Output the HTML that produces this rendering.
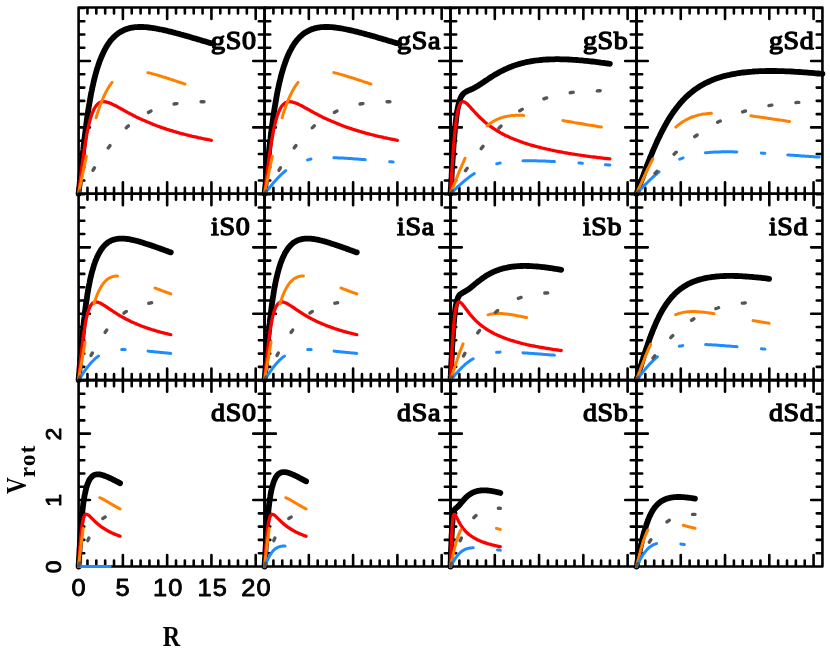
<!DOCTYPE html>
<html><head><meta charset="utf-8"><title>Rotation curves</title>
<style>
html,body{margin:0;padding:0;background:#fff}
body{width:830px;height:649px;overflow:hidden;font-family:"Liberation Serif",serif}
svg{display:block}
</style></head><body>
<svg width="830" height="649" viewBox="0 0 830 649"><rect width="830" height="649" fill="#fff"/><path d="M78.60 7.50H264.56V193.82H78.60ZM78.60 193.82v-11.5M78.60 7.50v11.5M87.46 193.82v-6.0M87.46 7.50v6.0M96.31 193.82v-6.0M96.31 7.50v6.0M105.17 193.82v-6.0M105.17 7.50v6.0M114.02 193.82v-6.0M114.02 7.50v6.0M122.88 193.82v-11.5M122.88 7.50v11.5M131.73 193.82v-6.0M131.73 7.50v6.0M140.59 193.82v-6.0M140.59 7.50v6.0M149.44 193.82v-6.0M149.44 7.50v6.0M158.30 193.82v-6.0M158.30 7.50v6.0M167.15 193.82v-11.5M167.15 7.50v11.5M176.01 193.82v-6.0M176.01 7.50v6.0M184.86 193.82v-6.0M184.86 7.50v6.0M193.72 193.82v-6.0M193.72 7.50v6.0M202.57 193.82v-6.0M202.57 7.50v6.0M211.43 193.82v-11.5M211.43 7.50v11.5M220.28 193.82v-6.0M220.28 7.50v6.0M229.14 193.82v-6.0M229.14 7.50v6.0M237.99 193.82v-6.0M237.99 7.50v6.0M246.85 193.82v-6.0M246.85 7.50v6.0M255.70 193.82v-11.5M255.70 7.50v11.5M264.56 193.82v-6.0M264.56 7.50v6.0M78.60 193.82h11.3M264.56 193.82h-11.3M78.60 180.54h5.7M264.56 180.54h-5.7M78.60 167.26h5.7M264.56 167.26h-5.7M78.60 153.98h5.7M264.56 153.98h-5.7M78.60 140.70h5.7M264.56 140.70h-5.7M78.60 127.42h11.3M264.56 127.42h-11.3M78.60 114.14h5.7M264.56 114.14h-5.7M78.60 100.86h5.7M264.56 100.86h-5.7M78.60 87.58h5.7M264.56 87.58h-5.7M78.60 74.30h5.7M264.56 74.30h-5.7M78.60 61.02h11.3M264.56 61.02h-11.3M78.60 47.74h5.7M264.56 47.74h-5.7M78.60 34.46h5.7M264.56 34.46h-5.7M78.60 21.18h5.7M264.56 21.18h-5.7M78.60 7.90h5.7M264.56 7.90h-5.7" fill="none" stroke="#000" stroke-width="2.6" stroke-linecap="round" stroke-linejoin="round"/><g fill="none" stroke-linejoin="round" stroke-linecap="round"><polyline points="78.6,193.8 78.6,193.3 78.7,192.3 78.9,191 79,189.3 79.2,187.4 79.5,185.3 79.7,182.9 80,180.3 80.2,177.5 80.5,174.5 80.9,171.4 81.2,168.1 81.6,164.7 81.9,161.2 82.3,157.6 82.7,153.9 83.2,150.1 83.6,146.2 84,142.3 84.5,138.4 85,134.4 85.5,130.5 86,126.5 86.5,122.6 87,118.8 87.6,115 88.1,111.2 88.7,107.6 89.3,104 89.9,100.5 90.5,97.1 91.1,93.7 91.8,90.5 92.4,87.4 93.1,84.4 93.7,81.5 94.4,78.7 95.1,76 95.8,73.4 96.5,70.9 97.2,68.5 98,66.2 98.7,64 99.4,61.9 100.2,59.9 101,57.9 101.8,56 102.6,54.2 103.4,52.5 104.2,50.9 105,49.3 105.8,47.8 106.7,46.4 107.5,45 108.4,43.7 109.3,42.4 110.1,41.3 111,40.1 111.9,39.1 112.8,38.1 113.8,37.1 114.7,36.2 115.6,35.4 116.6,34.6 117.5,33.8 118.5,33.1 119.5,32.5 120.4,31.9 121.4,31.3 122.4,30.8 123.4,30.3 124.4,29.8 125.5,29.4 126.5,29.1 127.5,28.7 128.6,28.4 129.6,28.1 130.7,27.9 131.8,27.7 132.9,27.5 133.9,27.4 135,27.2 136.1,27.1 137.3,27.1 138.4,27 139.5,27 140.6,27 141.8,27 142.9,27 144.1,27.1 145.3,27.2 146.4,27.2 147.6,27.4 148.8,27.5 150,27.6 151.2,27.8 152.4,28 153.7,28.1 154.9,28.3 156.1,28.5 157.4,28.8 158.6,29 159.9,29.3 161.2,29.5 162.4,29.8 163.7,30.1 165,30.4 166.3,30.7 167.6,31 168.9,31.3 170.2,31.6 171.5,31.9 172.9,32.3 174.2,32.6 175.6,33 176.9,33.3 178.3,33.7 179.6,34.1 181,34.5 182.4,34.8 183.8,35.2 185.2,35.6 186.6,36 188,36.4 189.4,36.8 190.8,37.2 192.3,37.7 193.7,38.1 195.1,38.5 196.6,38.9 198,39.4 199.5,39.8 201,40.2 202.4,40.7 203.9,41.1 205.4,41.5 206.9,42 208.4,42.4 209.9,42.9 211.4,43.3" stroke="#000000" stroke-width="5.8"/><polyline points="78.6,193.8 78.6,193.4 78.7,192.6 78.9,191.4 79,190.1 79.2,188.4 79.5,186.6 79.7,184.6 80,182.4 80.2,180.1 80.5,177.6 80.9,175 81.2,172.3 81.6,169.5 81.9,166.6 82.3,163.6 82.7,160.5 83.2,157.4 83.6,154.3 84,151.2 84.5,148.1 85,145 85.5,141.9 86,138.9 86.5,136 87,133.1 87.6,130.4 88.1,127.7 88.7,125.2 89.3,122.8 89.9,120.5 90.5,118.4 91.1,116.4 91.8,114.5 92.4,112.8 93.1,111.2 93.7,109.7 94.4,108.4 95.1,107.3 95.8,106.2 96.5,105.3 97.2,104.5 98,103.8 98.7,103.2 99.4,102.8 100.2,102.4 101,102.1 101.8,101.9 102.6,101.8 103.4,101.7 104.2,101.7 105,101.8 105.8,101.9 106.7,102.1 107.5,102.3 108.4,102.6 109.3,102.9 110.1,103.2 111,103.6 111.9,104 112.8,104.4 113.8,104.9 114.7,105.3 115.6,105.8 116.6,106.3 117.5,106.8 118.5,107.4 119.5,107.9 120.4,108.4 121.4,109 122.4,109.6 123.4,110.1 124.4,110.7 125.5,111.2 126.5,111.8 127.5,112.4 128.6,112.9 129.6,113.5 130.7,114.1 131.8,114.6 132.9,115.2 133.9,115.8 135,116.3 136.1,116.9 137.3,117.4 138.4,117.9 139.5,118.5 140.6,119 141.8,119.6 142.9,120.1 144.1,120.6 145.3,121.1 146.4,121.6 147.6,122.1 148.8,122.6 150,123.1 151.2,123.6 152.4,124.1 153.7,124.6 154.9,125 156.1,125.5 157.4,126 158.6,126.4 159.9,126.9 161.2,127.3 162.4,127.8 163.7,128.2 165,128.6 166.3,129.1 167.6,129.5 168.9,129.9 170.2,130.3 171.5,130.7 172.9,131.1 174.2,131.5 175.6,131.9 176.9,132.3 178.3,132.7 179.6,133.1 181,133.4 182.4,133.8 183.8,134.2 185.2,134.5 186.6,134.9 188,135.2 189.4,135.6 190.8,135.9 192.3,136.3 193.7,136.6 195.1,136.9 196.6,137.2 198,137.6 199.5,137.9 201,138.2 202.4,138.5 203.9,138.8 205.4,139.1 206.9,139.4 208.4,139.7 209.9,140 211.4,140.3" stroke="#ff0000" stroke-width="3.3"/><polyline points="78.6,193.8 78.6,193.6 78.7,193.1 78.9,192.4 79,191.6 79.2,190.6 79.5,189.5 79.7,188.4 80,187.1 80.2,185.7 80.5,184.2 80.9,182.6 81.2,180.9 81.6,179.2 81.9,177.3 82.3,175.4 82.7,173.5 83.2,171.4 83.6,169.3 84,167.2 84.5,165 85,162.7 85.5,160.4 86,158.1 86.5,155.7 87,153.3 87.6,150.8 88.1,148.4 88.7,145.9 89.3,143.4 89.9,140.9 90.5,138.4 91.1,135.8 91.8,133.3 92.4,130.8 93.1,128.4 93.7,125.9 94.4,123.5 95.1,121.1 95.8,118.7 96.5,116.4 97.2,114.1 98,111.8 98.7,109.6 99.4,107.4 100.2,105.3 101,103.3 101.8,101.3 102.6,99.4 103.4,97.5 104.2,95.7 105,94 105.8,92.3 106.7,90.7 107.5,89.2 108.4,87.7 109.3,86.3 110.1,85 111,83.8 111.9,82.6 112.8,81.5 113.8,80.4 114.7,79.4 115.6,78.5 116.6,77.6 117.5,76.8 118.5,76.1 119.5,75.4 120.4,74.8 121.4,74.2 122.4,73.7 123.4,73.2 124.4,72.8 125.5,72.4 126.5,72.1 127.5,71.8 128.6,71.6 129.6,71.4 130.7,71.3 131.8,71.1 132.9,71.1 133.9,71 135,71 136.1,71 137.3,71.1 138.4,71.1 139.5,71.2 140.6,71.4 141.8,71.5 142.9,71.7 144.1,71.9 145.3,72.1 146.4,72.3 147.6,72.6 148.8,72.9 150,73.1 151.2,73.4 152.4,73.8 153.7,74.1 154.9,74.4 156.1,74.8 157.4,75.1 158.6,75.5 159.9,75.9 161.2,76.3 162.4,76.7 163.7,77.1 165,77.5 166.3,77.9 167.6,78.3 168.9,78.7 170.2,79.2 171.5,79.6 172.9,80 174.2,80.5 175.6,80.9 176.9,81.4 178.3,81.8 179.6,82.3 181,82.7 182.4,83.2 183.8,83.6 185.2,84.1 186.6,84.5 188,85 189.4,85.4 190.8,85.9 192.3,86.4 193.7,86.8 195.1,87.3 196.6,87.7 198,88.2 199.5,88.6 201,89.1 202.4,89.5 203.9,90 205.4,90.4 206.9,90.9 208.4,91.3 209.9,91.7 211.4,92.2" stroke="#ff8000" stroke-width="3.0" stroke-dasharray="39 39.6" stroke-dashoffset="0.5"/><polyline points="78.6,193.8 78.6,193.7 78.7,193.6 78.9,193.3 79,193.1 79.2,192.7 79.5,192.4 79.7,192 80,191.5 80.2,191.1 80.5,190.6 80.9,190 81.2,189.5 81.6,188.9 81.9,188.2 82.3,187.6 82.7,186.9 83.2,186.2 83.6,185.5 84,184.7 84.5,184 85,183.2 85.5,182.3 86,181.5 86.5,180.6 87,179.8 87.6,178.9 88.1,178 88.7,177 89.3,176.1 89.9,175.1 90.5,174.1 91.1,173.1 91.8,172.1 92.4,171.1 93.1,170.1 93.7,169 94.4,167.9 95.1,166.9 95.8,165.8 96.5,164.7 97.2,163.6 98,162.5 98.7,161.4 99.4,160.3 100.2,159.1 101,158 101.8,156.9 102.6,155.7 103.4,154.6 104.2,153.4 105,152.3 105.8,151.2 106.7,150 107.5,148.9 108.4,147.7 109.3,146.6 110.1,145.5 111,144.3 111.9,143.2 112.8,142.1 113.8,141 114.7,139.9 115.6,138.8 116.6,137.7 117.5,136.7 118.5,135.6 119.5,134.6 120.4,133.5 121.4,132.5 122.4,131.5 123.4,130.5 124.4,129.5 125.5,128.5 126.5,127.6 127.5,126.6 128.6,125.7 129.6,124.8 130.7,123.9 131.8,123 132.9,122.2 133.9,121.4 135,120.5 136.1,119.7 137.3,119 138.4,118.2 139.5,117.4 140.6,116.7 141.8,116 142.9,115.3 144.1,114.6 145.3,114 146.4,113.4 147.6,112.8 148.8,112.2 150,111.6 151.2,111 152.4,110.5 153.7,110 154.9,109.5 156.1,109 157.4,108.5 158.6,108.1 159.9,107.6 161.2,107.2 162.4,106.8 163.7,106.5 165,106.1 166.3,105.8 167.6,105.4 168.9,105.1 170.2,104.8 171.5,104.5 172.9,104.3 174.2,104 175.6,103.8 176.9,103.6 178.3,103.4 179.6,103.2 181,103 182.4,102.8 183.8,102.7 185.2,102.5 186.6,102.4 188,102.3 189.4,102.2 190.8,102.1 192.3,102 193.7,101.9 195.1,101.9 196.6,101.8 198,101.8 199.5,101.7 201,101.7 202.4,101.7 203.9,101.7 205.4,101.7 206.9,101.7 208.4,101.7 209.9,101.8 211.4,101.8" stroke="#555555" stroke-width="3.4" stroke-dasharray="2.9 24.2" stroke-dashoffset="-0.5"/></g><path d="M264.56 7.50H450.52V193.82H264.56ZM264.56 193.82v-11.5M264.56 7.50v11.5M273.42 193.82v-6.0M273.42 7.50v6.0M282.27 193.82v-6.0M282.27 7.50v6.0M291.13 193.82v-6.0M291.13 7.50v6.0M299.98 193.82v-6.0M299.98 7.50v6.0M308.84 193.82v-11.5M308.84 7.50v11.5M317.69 193.82v-6.0M317.69 7.50v6.0M326.55 193.82v-6.0M326.55 7.50v6.0M335.40 193.82v-6.0M335.40 7.50v6.0M344.26 193.82v-6.0M344.26 7.50v6.0M353.11 193.82v-11.5M353.11 7.50v11.5M361.97 193.82v-6.0M361.97 7.50v6.0M370.82 193.82v-6.0M370.82 7.50v6.0M379.68 193.82v-6.0M379.68 7.50v6.0M388.53 193.82v-6.0M388.53 7.50v6.0M397.39 193.82v-11.5M397.39 7.50v11.5M406.24 193.82v-6.0M406.24 7.50v6.0M415.10 193.82v-6.0M415.10 7.50v6.0M423.95 193.82v-6.0M423.95 7.50v6.0M432.81 193.82v-6.0M432.81 7.50v6.0M441.66 193.82v-11.5M441.66 7.50v11.5M450.52 193.82v-6.0M450.52 7.50v6.0M264.56 193.82h11.3M450.52 193.82h-11.3M264.56 180.54h5.7M450.52 180.54h-5.7M264.56 167.26h5.7M450.52 167.26h-5.7M264.56 153.98h5.7M450.52 153.98h-5.7M264.56 140.70h5.7M450.52 140.70h-5.7M264.56 127.42h11.3M450.52 127.42h-11.3M264.56 114.14h5.7M450.52 114.14h-5.7M264.56 100.86h5.7M450.52 100.86h-5.7M264.56 87.58h5.7M450.52 87.58h-5.7M264.56 74.30h5.7M450.52 74.30h-5.7M264.56 61.02h11.3M450.52 61.02h-11.3M264.56 47.74h5.7M450.52 47.74h-5.7M264.56 34.46h5.7M450.52 34.46h-5.7M264.56 21.18h5.7M450.52 21.18h-5.7M264.56 7.90h5.7M450.52 7.90h-5.7" fill="none" stroke="#000" stroke-width="2.6" stroke-linecap="round" stroke-linejoin="round"/><g fill="none" stroke-linejoin="round" stroke-linecap="round"><polyline points="264.6,193.8 264.6,193.3 264.7,192.3 264.8,191 265,189.3 265.2,187.4 265.4,185.3 265.7,182.9 265.9,180.3 266.2,177.5 266.5,174.5 266.8,171.4 267.2,168.1 267.5,164.7 267.9,161.2 268.3,157.6 268.7,153.9 269.1,150.1 269.5,146.2 270,142.3 270.5,138.4 270.9,134.4 271.4,130.5 271.9,126.5 272.5,122.6 273,118.8 273.5,115 274.1,111.2 274.7,107.6 275.3,104 275.9,100.5 276.5,97.1 277.1,93.7 277.7,90.5 278.4,87.4 279,84.4 279.7,81.5 280.4,78.7 281,76 281.7,73.4 282.5,70.9 283.2,68.5 283.9,66.2 284.7,64 285.4,61.9 286.2,59.9 286.9,57.9 287.7,56 288.5,54.2 289.3,52.5 290.1,50.9 291,49.3 291.8,47.8 292.6,46.4 293.5,45 294.3,43.7 295.2,42.4 296.1,41.3 297,40.1 297.9,39.1 298.8,38.1 299.7,37.1 300.6,36.2 301.6,35.4 302.5,34.6 303.5,33.8 304.4,33.1 305.4,32.5 306.4,31.9 307.4,31.3 308.4,30.8 309.4,30.3 310.4,29.8 311.4,29.4 312.5,29.1 313.5,28.7 314.5,28.4 315.6,28.1 316.7,27.9 317.7,27.7 318.8,27.5 319.9,27.4 321,27.2 322.1,27.1 323.2,27.1 324.3,27 325.5,27 326.6,27 327.8,27 328.9,27 330.1,27.1 331.2,27.2 332.4,27.2 333.6,27.4 334.8,27.5 336,27.6 337.2,27.8 338.4,28 339.6,28.1 340.9,28.3 342.1,28.5 343.3,28.8 344.6,29 345.8,29.3 347.1,29.5 348.4,29.8 349.7,30.1 351,30.4 352.3,30.7 353.6,31 354.9,31.3 356.2,31.6 357.5,31.9 358.8,32.3 360.2,32.6 361.5,33 362.9,33.3 364.2,33.7 365.6,34.1 367,34.5 368.4,34.8 369.7,35.2 371.1,35.6 372.5,36 373.9,36.4 375.4,36.8 376.8,37.2 378.2,37.7 379.6,38.1 381.1,38.5 382.5,38.9 384,39.4 385.5,39.8 386.9,40.2 388.4,40.7 389.9,41.1 391.4,41.5 392.9,42 394.4,42.4 395.9,42.9 397.4,43.3" stroke="#000000" stroke-width="5.8"/><polyline points="264.6,193.8 264.6,193.4 264.7,192.6 264.8,191.4 265,190.1 265.2,188.4 265.4,186.6 265.7,184.6 265.9,182.4 266.2,180.1 266.5,177.6 266.8,175 267.2,172.3 267.5,169.5 267.9,166.6 268.3,163.6 268.7,160.5 269.1,157.4 269.5,154.3 270,151.2 270.5,148.1 270.9,145 271.4,141.9 271.9,138.9 272.5,136 273,133.1 273.5,130.4 274.1,127.7 274.7,125.2 275.3,122.8 275.9,120.5 276.5,118.4 277.1,116.4 277.7,114.5 278.4,112.8 279,111.2 279.7,109.7 280.4,108.4 281,107.3 281.7,106.2 282.5,105.3 283.2,104.5 283.9,103.8 284.7,103.2 285.4,102.8 286.2,102.4 286.9,102.1 287.7,101.9 288.5,101.8 289.3,101.7 290.1,101.7 291,101.8 291.8,101.9 292.6,102.1 293.5,102.3 294.3,102.6 295.2,102.9 296.1,103.2 297,103.6 297.9,104 298.8,104.4 299.7,104.9 300.6,105.3 301.6,105.8 302.5,106.3 303.5,106.8 304.4,107.4 305.4,107.9 306.4,108.4 307.4,109 308.4,109.6 309.4,110.1 310.4,110.7 311.4,111.2 312.5,111.8 313.5,112.4 314.5,112.9 315.6,113.5 316.7,114.1 317.7,114.6 318.8,115.2 319.9,115.8 321,116.3 322.1,116.9 323.2,117.4 324.3,117.9 325.5,118.5 326.6,119 327.8,119.6 328.9,120.1 330.1,120.6 331.2,121.1 332.4,121.6 333.6,122.1 334.8,122.6 336,123.1 337.2,123.6 338.4,124.1 339.6,124.6 340.9,125 342.1,125.5 343.3,126 344.6,126.4 345.8,126.9 347.1,127.3 348.4,127.8 349.7,128.2 351,128.6 352.3,129.1 353.6,129.5 354.9,129.9 356.2,130.3 357.5,130.7 358.8,131.1 360.2,131.5 361.5,131.9 362.9,132.3 364.2,132.7 365.6,133.1 367,133.4 368.4,133.8 369.7,134.2 371.1,134.5 372.5,134.9 373.9,135.2 375.4,135.6 376.8,135.9 378.2,136.3 379.6,136.6 381.1,136.9 382.5,137.2 384,137.6 385.5,137.9 386.9,138.2 388.4,138.5 389.9,138.8 391.4,139.1 392.9,139.4 394.4,139.7 395.9,140 397.4,140.3" stroke="#ff0000" stroke-width="3.3"/><polyline points="264.6,193.8 264.6,193.6 264.7,193.1 264.8,192.4 265,191.6 265.2,190.6 265.4,189.5 265.7,188.4 265.9,187.1 266.2,185.7 266.5,184.2 266.8,182.6 267.2,180.9 267.5,179.2 267.9,177.3 268.3,175.4 268.7,173.5 269.1,171.4 269.5,169.3 270,167.2 270.5,165 270.9,162.7 271.4,160.4 271.9,158.1 272.5,155.7 273,153.3 273.5,150.8 274.1,148.4 274.7,145.9 275.3,143.4 275.9,140.9 276.5,138.4 277.1,135.8 277.7,133.3 278.4,130.8 279,128.4 279.7,125.9 280.4,123.5 281,121.1 281.7,118.7 282.5,116.4 283.2,114.1 283.9,111.8 284.7,109.6 285.4,107.4 286.2,105.3 286.9,103.3 287.7,101.3 288.5,99.4 289.3,97.5 290.1,95.7 291,94 291.8,92.3 292.6,90.7 293.5,89.2 294.3,87.7 295.2,86.3 296.1,85 297,83.8 297.9,82.6 298.8,81.5 299.7,80.4 300.6,79.4 301.6,78.5 302.5,77.6 303.5,76.8 304.4,76.1 305.4,75.4 306.4,74.8 307.4,74.2 308.4,73.7 309.4,73.2 310.4,72.8 311.4,72.4 312.5,72.1 313.5,71.8 314.5,71.6 315.6,71.4 316.7,71.3 317.7,71.1 318.8,71.1 319.9,71 321,71 322.1,71 323.2,71.1 324.3,71.1 325.5,71.2 326.6,71.4 327.8,71.5 328.9,71.7 330.1,71.9 331.2,72.1 332.4,72.3 333.6,72.6 334.8,72.9 336,73.1 337.2,73.4 338.4,73.8 339.6,74.1 340.9,74.4 342.1,74.8 343.3,75.1 344.6,75.5 345.8,75.9 347.1,76.3 348.4,76.7 349.7,77.1 351,77.5 352.3,77.9 353.6,78.3 354.9,78.7 356.2,79.2 357.5,79.6 358.8,80 360.2,80.5 361.5,80.9 362.9,81.4 364.2,81.8 365.6,82.3 367,82.7 368.4,83.2 369.7,83.6 371.1,84.1 372.5,84.5 373.9,85 375.4,85.4 376.8,85.9 378.2,86.4 379.6,86.8 381.1,87.3 382.5,87.7 384,88.2 385.5,88.6 386.9,89.1 388.4,89.5 389.9,90 391.4,90.4 392.9,90.9 394.4,91.3 395.9,91.7 397.4,92.2" stroke="#ff8000" stroke-width="3.0" stroke-dasharray="39 39.6" stroke-dashoffset="0.5"/><polyline points="264.6,193.8 264.6,193.8 264.7,193.6 264.8,193.5 265,193.3 265.2,193 265.4,192.7 265.7,192.4 265.9,192.1 266.2,191.7 266.5,191.4 266.8,191 267.2,190.5 267.5,190.1 267.9,189.6 268.3,189.1 268.7,188.6 269.1,188.1 269.5,187.6 270,187 270.5,186.4 270.9,185.9 271.4,185.3 271.9,184.7 272.5,184 273,183.4 273.5,182.8 274.1,182.1 274.7,181.5 275.3,180.8 275.9,180.1 276.5,179.5 277.1,178.8 277.7,178.1 278.4,177.5 279,176.8 279.7,176.1 280.4,175.4 281,174.8 281.7,174.1 282.5,173.5 283.2,172.8 283.9,172.2 284.7,171.5 285.4,170.9 286.2,170.3 286.9,169.7 287.7,169.1 288.5,168.5 289.3,167.9 290.1,167.4 291,166.8 291.8,166.3 292.6,165.8 293.5,165.3 294.3,164.8 295.2,164.4 296.1,163.9 297,163.5 297.9,163.1 298.8,162.7 299.7,162.3 300.6,162 301.6,161.6 302.5,161.3 303.5,161 304.4,160.7 305.4,160.4 306.4,160.1 307.4,159.9 308.4,159.7 309.4,159.4 310.4,159.2 311.4,159 312.5,158.9 313.5,158.7 314.5,158.6 315.6,158.4 316.7,158.3 317.7,158.2 318.8,158.1 319.9,158 321,157.9 322.1,157.9 323.2,157.8 324.3,157.8 325.5,157.7 326.6,157.7 327.8,157.7 328.9,157.7 330.1,157.7 331.2,157.7 332.4,157.7 333.6,157.7 334.8,157.8 336,157.8 337.2,157.8 338.4,157.9 339.6,157.9 340.9,158 342.1,158 343.3,158.1 344.6,158.2 345.8,158.2 347.1,158.3 348.4,158.4 349.7,158.5 351,158.6 352.3,158.7 353.6,158.8 354.9,158.9 356.2,159 357.5,159.1 358.8,159.2 360.2,159.3 361.5,159.4 362.9,159.5 364.2,159.6 365.6,159.7 367,159.8 368.4,159.9 369.7,160 371.1,160.2 372.5,160.3 373.9,160.4 375.4,160.5 376.8,160.6 378.2,160.7 379.6,160.9 381.1,161 382.5,161.1 384,161.2 385.5,161.4 386.9,161.5 388.4,161.6 389.9,161.7 391.4,161.8 392.9,162 394.4,162.1 395.9,162.2 397.4,162.3" stroke="#1e8cff" stroke-width="3.0" stroke-dasharray="31.5 24.5 3.5 23" stroke-dashoffset="0"/><polyline points="264.6,193.8 264.6,193.7 264.7,193.6 264.8,193.3 265,193.1 265.2,192.7 265.4,192.4 265.7,192 265.9,191.5 266.2,191.1 266.5,190.6 266.8,190 267.2,189.5 267.5,188.9 267.9,188.2 268.3,187.6 268.7,186.9 269.1,186.2 269.5,185.5 270,184.7 270.5,184 270.9,183.2 271.4,182.3 271.9,181.5 272.5,180.6 273,179.8 273.5,178.9 274.1,178 274.7,177 275.3,176.1 275.9,175.1 276.5,174.1 277.1,173.1 277.7,172.1 278.4,171.1 279,170.1 279.7,169 280.4,167.9 281,166.9 281.7,165.8 282.5,164.7 283.2,163.6 283.9,162.5 284.7,161.4 285.4,160.3 286.2,159.1 286.9,158 287.7,156.9 288.5,155.7 289.3,154.6 290.1,153.4 291,152.3 291.8,151.2 292.6,150 293.5,148.9 294.3,147.7 295.2,146.6 296.1,145.5 297,144.3 297.9,143.2 298.8,142.1 299.7,141 300.6,139.9 301.6,138.8 302.5,137.7 303.5,136.7 304.4,135.6 305.4,134.6 306.4,133.5 307.4,132.5 308.4,131.5 309.4,130.5 310.4,129.5 311.4,128.5 312.5,127.6 313.5,126.6 314.5,125.7 315.6,124.8 316.7,123.9 317.7,123 318.8,122.2 319.9,121.4 321,120.5 322.1,119.7 323.2,119 324.3,118.2 325.5,117.4 326.6,116.7 327.8,116 328.9,115.3 330.1,114.6 331.2,114 332.4,113.4 333.6,112.8 334.8,112.2 336,111.6 337.2,111 338.4,110.5 339.6,110 340.9,109.5 342.1,109 343.3,108.5 344.6,108.1 345.8,107.6 347.1,107.2 348.4,106.8 349.7,106.5 351,106.1 352.3,105.8 353.6,105.4 354.9,105.1 356.2,104.8 357.5,104.5 358.8,104.3 360.2,104 361.5,103.8 362.9,103.6 364.2,103.4 365.6,103.2 367,103 368.4,102.8 369.7,102.7 371.1,102.5 372.5,102.4 373.9,102.3 375.4,102.2 376.8,102.1 378.2,102 379.6,101.9 381.1,101.9 382.5,101.8 384,101.8 385.5,101.7 386.9,101.7 388.4,101.7 389.9,101.7 391.4,101.7 392.9,101.7 394.4,101.7 395.9,101.8 397.4,101.8" stroke="#555555" stroke-width="3.4" stroke-dasharray="2.9 24.2" stroke-dashoffset="-0.5"/></g><path d="M450.52 7.50H636.48V193.82H450.52ZM450.52 193.82v-11.5M450.52 7.50v11.5M459.38 193.82v-6.0M459.38 7.50v6.0M468.23 193.82v-6.0M468.23 7.50v6.0M477.09 193.82v-6.0M477.09 7.50v6.0M485.94 193.82v-6.0M485.94 7.50v6.0M494.80 193.82v-11.5M494.80 7.50v11.5M503.65 193.82v-6.0M503.65 7.50v6.0M512.51 193.82v-6.0M512.51 7.50v6.0M521.36 193.82v-6.0M521.36 7.50v6.0M530.22 193.82v-6.0M530.22 7.50v6.0M539.07 193.82v-11.5M539.07 7.50v11.5M547.93 193.82v-6.0M547.93 7.50v6.0M556.78 193.82v-6.0M556.78 7.50v6.0M565.64 193.82v-6.0M565.64 7.50v6.0M574.49 193.82v-6.0M574.49 7.50v6.0M583.35 193.82v-11.5M583.35 7.50v11.5M592.20 193.82v-6.0M592.20 7.50v6.0M601.06 193.82v-6.0M601.06 7.50v6.0M609.91 193.82v-6.0M609.91 7.50v6.0M618.77 193.82v-6.0M618.77 7.50v6.0M627.62 193.82v-11.5M627.62 7.50v11.5M636.48 193.82v-6.0M636.48 7.50v6.0M450.52 193.82h11.3M636.48 193.82h-11.3M450.52 180.54h5.7M636.48 180.54h-5.7M450.52 167.26h5.7M636.48 167.26h-5.7M450.52 153.98h5.7M636.48 153.98h-5.7M450.52 140.70h5.7M636.48 140.70h-5.7M450.52 127.42h11.3M636.48 127.42h-11.3M450.52 114.14h5.7M636.48 114.14h-5.7M450.52 100.86h5.7M636.48 100.86h-5.7M450.52 87.58h5.7M636.48 87.58h-5.7M450.52 74.30h5.7M636.48 74.30h-5.7M450.52 61.02h11.3M636.48 61.02h-11.3M450.52 47.74h5.7M636.48 47.74h-5.7M450.52 34.46h5.7M636.48 34.46h-5.7M450.52 21.18h5.7M636.48 21.18h-5.7M450.52 7.90h5.7M636.48 7.90h-5.7" fill="none" stroke="#000" stroke-width="2.6" stroke-linecap="round" stroke-linejoin="round"/><g fill="none" stroke-linejoin="round" stroke-linecap="round"><polyline points="450.5,193.8 450.6,192.8 450.7,190.8 450.9,188 451.1,184.6 451.3,180.7 451.6,176.4 451.8,171.6 452.2,166.6 452.5,161.3 452.9,155.8 453.2,150.3 453.6,144.8 454.1,139.3 454.5,134.1 455,129 455.5,124.3 456,119.9 456.5,115.8 457,112.2 457.6,108.9 458.2,106 458.8,103.5 459.4,101.3 460,99.4 460.6,97.8 461.3,96.5 462,95.4 462.7,94.5 463.4,93.7 464.1,93 464.8,92.5 465.5,92 466.3,91.6 467.1,91.2 467.9,90.8 468.7,90.5 469.5,90.1 470.3,89.8 471.1,89.4 472,89 472.9,88.6 473.7,88.2 474.6,87.7 475.5,87.2 476.5,86.7 477.4,86.1 478.3,85.6 479.3,85 480.2,84.3 481.2,83.7 482.2,83 483.2,82.4 484.2,81.7 485.2,81 486.3,80.3 487.3,79.6 488.4,78.9 489.4,78.2 490.5,77.5 491.6,76.8 492.7,76.1 493.8,75.4 494.9,74.7 496.1,74.1 497.2,73.4 498.4,72.7 499.5,72.1 500.7,71.5 501.9,70.9 503.1,70.3 504.3,69.7 505.5,69.1 506.8,68.6 508,68 509.2,67.5 510.5,67 511.8,66.5 513,66 514.3,65.6 515.6,65.1 516.9,64.7 518.2,64.3 519.6,63.9 520.9,63.5 522.3,63.2 523.6,62.8 525,62.5 526.3,62.2 527.7,61.9 529.1,61.7 530.5,61.4 531.9,61.1 533.4,60.9 534.8,60.7 536.2,60.5 537.7,60.3 539.1,60.2 540.6,60 542.1,59.9 543.6,59.7 545.1,59.6 546.6,59.5 548.1,59.5 549.6,59.4 551.1,59.3 552.7,59.3 554.2,59.3 555.8,59.2 557.3,59.2 558.9,59.2 560.5,59.3 562.1,59.3 563.7,59.3 565.3,59.4 566.9,59.4 568.5,59.5 570.1,59.6 571.8,59.7 573.4,59.8 575.1,59.9 576.7,60 578.4,60.2 580.1,60.3 581.8,60.4 583.5,60.6 585.2,60.8 586.9,60.9 588.6,61.1 590.4,61.3 592.1,61.5 593.8,61.7 595.6,61.9 597.4,62.1 599.1,62.3 600.9,62.6 602.7,62.8 604.5,63 606.3,63.3 608.1,63.5 609.9,63.8" stroke="#000000" stroke-width="5.8"/><polyline points="450.5,193.8 450.6,192.8 450.7,190.8 450.9,188.1 451.1,184.8 451.3,181 451.6,176.7 451.8,172 452.2,167.1 452.5,161.9 452.9,156.6 453.2,151.2 453.6,145.8 454.1,140.5 454.5,135.4 455,130.6 455.5,126.1 456,121.9 456.5,118.1 457,114.8 457.6,111.9 458.2,109.3 458.8,107.2 459.4,105.5 460,104.2 460.6,103.1 461.3,102.4 462,102 462.7,101.7 463.4,101.7 464.1,101.9 464.8,102.2 465.5,102.7 466.3,103.2 467.1,103.9 467.9,104.6 468.7,105.5 469.5,106.3 470.3,107.2 471.1,108.1 472,109.1 472.9,110 473.7,111 474.6,112 475.5,113 476.5,113.9 477.4,114.9 478.3,115.9 479.3,116.8 480.2,117.8 481.2,118.7 482.2,119.6 483.2,120.5 484.2,121.4 485.2,122.3 486.3,123.2 487.3,124 488.4,124.8 489.4,125.6 490.5,126.4 491.6,127.2 492.7,128 493.8,128.7 494.9,129.4 496.1,130.2 497.2,130.9 498.4,131.5 499.5,132.2 500.7,132.9 501.9,133.5 503.1,134.2 504.3,134.8 505.5,135.4 506.8,136 508,136.6 509.2,137.1 510.5,137.7 511.8,138.2 513,138.8 514.3,139.3 515.6,139.8 516.9,140.3 518.2,140.8 519.6,141.3 520.9,141.8 522.3,142.2 523.6,142.7 525,143.2 526.3,143.6 527.7,144 529.1,144.5 530.5,144.9 531.9,145.3 533.4,145.7 534.8,146.1 536.2,146.5 537.7,146.9 539.1,147.2 540.6,147.6 542.1,148 543.6,148.3 545.1,148.7 546.6,149 548.1,149.4 549.6,149.7 551.1,150 552.7,150.3 554.2,150.7 555.8,151 557.3,151.3 558.9,151.6 560.5,151.9 562.1,152.2 563.7,152.5 565.3,152.8 566.9,153 568.5,153.3 570.1,153.6 571.8,153.9 573.4,154.1 575.1,154.4 576.7,154.6 578.4,154.9 580.1,155.1 581.8,155.4 583.5,155.6 585.2,155.9 586.9,156.1 588.6,156.3 590.4,156.6 592.1,156.8 593.8,157 595.6,157.2 597.4,157.5 599.1,157.7 600.9,157.9 602.7,158.1 604.5,158.3 606.3,158.5 608.1,158.7 609.9,158.9" stroke="#ff0000" stroke-width="3.3"/><polyline points="450.5,193.8 450.6,193.7 450.7,193.4 450.9,192.9 451.1,192.4 451.3,191.8 451.6,191.1 451.8,190.4 452.2,189.6 452.5,188.7 452.9,187.8 453.2,186.8 453.6,185.7 454.1,184.6 454.5,183.5 455,182.3 455.5,181 456,179.8 456.5,178.4 457,177.1 457.6,175.7 458.2,174.3 458.8,172.8 459.4,171.3 460,169.8 460.6,168.3 461.3,166.8 462,165.2 462.7,163.7 463.4,162.1 464.1,160.5 464.8,158.9 465.5,157.3 466.3,155.7 467.1,154.2 467.9,152.6 468.7,151 469.5,149.5 470.3,148 471.1,146.4 472,145 472.9,143.5 473.7,142 474.6,140.6 475.5,139.3 476.5,137.9 477.4,136.6 478.3,135.3 479.3,134.1 480.2,132.9 481.2,131.7 482.2,130.6 483.2,129.5 484.2,128.5 485.2,127.5 486.3,126.6 487.3,125.6 488.4,124.8 489.4,124 490.5,123.2 491.6,122.4 492.7,121.7 493.8,121.1 494.9,120.5 496.1,119.9 497.2,119.4 498.4,118.9 499.5,118.4 500.7,118 501.9,117.6 503.1,117.2 504.3,116.9 505.5,116.6 506.8,116.4 508,116.1 509.2,115.9 510.5,115.8 511.8,115.6 513,115.5 514.3,115.4 515.6,115.3 516.9,115.3 518.2,115.3 519.6,115.3 520.9,115.3 522.3,115.3 523.6,115.4 525,115.4 526.3,115.5 527.7,115.6 529.1,115.7 530.5,115.8 531.9,116 533.4,116.1 534.8,116.3 536.2,116.4 537.7,116.6 539.1,116.8 540.6,117 542.1,117.2 543.6,117.4 545.1,117.6 546.6,117.9 548.1,118.1 549.6,118.3 551.1,118.6 552.7,118.8 554.2,119.1 555.8,119.3 557.3,119.6 558.9,119.9 560.5,120.1 562.1,120.4 563.7,120.7 565.3,121 566.9,121.2 568.5,121.5 570.1,121.8 571.8,122.1 573.4,122.4 575.1,122.7 576.7,122.9 578.4,123.2 580.1,123.5 581.8,123.8 583.5,124.1 585.2,124.4 586.9,124.7 588.6,125 590.4,125.2 592.1,125.5 593.8,125.8 595.6,126.1 597.4,126.4 599.1,126.7 600.9,127 602.7,127.2 604.5,127.5 606.3,127.8 608.1,128.1 609.9,128.4" stroke="#ff8000" stroke-width="3.0" stroke-dasharray="39 39.6" stroke-dashoffset="0.5"/><polyline points="450.5,193.8 450.6,193.8 450.7,193.6 450.9,193.5 451.1,193.3 451.3,193.1 451.6,192.8 451.8,192.5 452.2,192.2 452.5,191.9 452.9,191.6 453.2,191.2 453.6,190.8 454.1,190.4 454.5,189.9 455,189.5 455.5,189 456,188.6 456.5,188.1 457,187.5 457.6,187 458.2,186.5 458.8,185.9 459.4,185.4 460,184.8 460.6,184.2 461.3,183.6 462,183 462.7,182.4 463.4,181.8 464.1,181.2 464.8,180.6 465.5,180 466.3,179.4 467.1,178.8 467.9,178.1 468.7,177.5 469.5,176.9 470.3,176.3 471.1,175.7 472,175.1 472.9,174.5 473.7,173.9 474.6,173.3 475.5,172.7 476.5,172.2 477.4,171.6 478.3,171.1 479.3,170.5 480.2,170 481.2,169.5 482.2,169 483.2,168.5 484.2,168.1 485.2,167.6 486.3,167.2 487.3,166.8 488.4,166.4 489.4,166 490.5,165.6 491.6,165.2 492.7,164.9 493.8,164.6 494.9,164.2 496.1,163.9 497.2,163.7 498.4,163.4 499.5,163.1 500.7,162.9 501.9,162.7 503.1,162.5 504.3,162.3 505.5,162.1 506.8,161.9 508,161.8 509.2,161.6 510.5,161.5 511.8,161.4 513,161.3 514.3,161.2 515.6,161.1 516.9,161 518.2,160.9 519.6,160.9 520.9,160.8 522.3,160.8 523.6,160.8 525,160.8 526.3,160.7 527.7,160.7 529.1,160.7 530.5,160.7 531.9,160.8 533.4,160.8 534.8,160.8 536.2,160.8 537.7,160.9 539.1,160.9 540.6,161 542.1,161 543.6,161.1 545.1,161.1 546.6,161.2 548.1,161.3 549.6,161.3 551.1,161.4 552.7,161.5 554.2,161.6 555.8,161.7 557.3,161.7 558.9,161.8 560.5,161.9 562.1,162 563.7,162.1 565.3,162.2 566.9,162.3 568.5,162.4 570.1,162.5 571.8,162.6 573.4,162.7 575.1,162.8 576.7,162.9 578.4,163 580.1,163.1 581.8,163.3 583.5,163.4 585.2,163.5 586.9,163.6 588.6,163.7 590.4,163.8 592.1,163.9 593.8,164 595.6,164.1 597.4,164.3 599.1,164.4 600.9,164.5 602.7,164.6 604.5,164.7 606.3,164.8 608.1,164.9 609.9,165" stroke="#1e8cff" stroke-width="3.0" stroke-dasharray="31.5 24.5 3.5 23" stroke-dashoffset="0"/><polyline points="450.5,193.8 450.6,193.7 450.7,193.5 450.9,193.3 451.1,193 451.3,192.6 451.6,192.2 451.8,191.8 452.2,191.3 452.5,190.7 452.9,190.2 453.2,189.6 453.6,188.9 454.1,188.3 454.5,187.6 455,186.8 455.5,186.1 456,185.3 456.5,184.5 457,183.7 457.6,182.8 458.2,181.9 458.8,181 459.4,180.1 460,179.1 460.6,178.1 461.3,177.1 462,176.1 462.7,175 463.4,174 464.1,172.9 464.8,171.8 465.5,170.7 466.3,169.6 467.1,168.4 467.9,167.3 468.7,166.1 469.5,164.9 470.3,163.7 471.1,162.5 472,161.3 472.9,160 473.7,158.8 474.6,157.5 475.5,156.3 476.5,155 477.4,153.8 478.3,152.5 479.3,151.2 480.2,149.9 481.2,148.7 482.2,147.4 483.2,146.1 484.2,144.8 485.2,143.6 486.3,142.3 487.3,141 488.4,139.8 489.4,138.5 490.5,137.2 491.6,136 492.7,134.8 493.8,133.5 494.9,132.3 496.1,131.1 497.2,129.9 498.4,128.7 499.5,127.6 500.7,126.4 501.9,125.3 503.1,124.1 504.3,123 505.5,121.9 506.8,120.8 508,119.8 509.2,118.7 510.5,117.7 511.8,116.7 513,115.7 514.3,114.7 515.6,113.7 516.9,112.8 518.2,111.9 519.6,111 520.9,110.1 522.3,109.3 523.6,108.4 525,107.6 526.3,106.8 527.7,106.1 529.1,105.3 530.5,104.6 531.9,103.9 533.4,103.2 534.8,102.5 536.2,101.9 537.7,101.3 539.1,100.6 540.6,100.1 542.1,99.5 543.6,99 545.1,98.4 546.6,97.9 548.1,97.5 549.6,97 551.1,96.6 552.7,96.1 554.2,95.7 555.8,95.4 557.3,95 558.9,94.6 560.5,94.3 562.1,94 563.7,93.7 565.3,93.4 566.9,93.2 568.5,92.9 570.1,92.7 571.8,92.5 573.4,92.3 575.1,92.1 576.7,91.9 578.4,91.8 580.1,91.6 581.8,91.5 583.5,91.4 585.2,91.3 586.9,91.2 588.6,91.1 590.4,91 592.1,91 593.8,90.9 595.6,90.9 597.4,90.9 599.1,90.8 600.9,90.8 602.7,90.8 604.5,90.9 606.3,90.9 608.1,90.9 609.9,90.9" stroke="#555555" stroke-width="3.4" stroke-dasharray="2.9 24.2" stroke-dashoffset="-0.5"/></g><path d="M636.48 7.50H822.44V193.82H636.48ZM636.48 193.82v-11.5M636.48 7.50v11.5M645.34 193.82v-6.0M645.34 7.50v6.0M654.19 193.82v-6.0M654.19 7.50v6.0M663.05 193.82v-6.0M663.05 7.50v6.0M671.90 193.82v-6.0M671.90 7.50v6.0M680.76 193.82v-11.5M680.76 7.50v11.5M689.61 193.82v-6.0M689.61 7.50v6.0M698.47 193.82v-6.0M698.47 7.50v6.0M707.32 193.82v-6.0M707.32 7.50v6.0M716.18 193.82v-6.0M716.18 7.50v6.0M725.03 193.82v-11.5M725.03 7.50v11.5M733.89 193.82v-6.0M733.89 7.50v6.0M742.74 193.82v-6.0M742.74 7.50v6.0M751.60 193.82v-6.0M751.60 7.50v6.0M760.45 193.82v-6.0M760.45 7.50v6.0M769.31 193.82v-11.5M769.31 7.50v11.5M778.16 193.82v-6.0M778.16 7.50v6.0M787.02 193.82v-6.0M787.02 7.50v6.0M795.87 193.82v-6.0M795.87 7.50v6.0M804.73 193.82v-6.0M804.73 7.50v6.0M813.58 193.82v-11.5M813.58 7.50v11.5M822.44 193.82v-6.0M822.44 7.50v6.0M636.48 193.82h11.3M822.44 193.82h-11.3M636.48 180.54h5.7M822.44 180.54h-5.7M636.48 167.26h5.7M822.44 167.26h-5.7M636.48 153.98h5.7M822.44 153.98h-5.7M636.48 140.70h5.7M822.44 140.70h-5.7M636.48 127.42h11.3M822.44 127.42h-11.3M636.48 114.14h5.7M822.44 114.14h-5.7M636.48 100.86h5.7M822.44 100.86h-5.7M636.48 87.58h5.7M822.44 87.58h-5.7M636.48 74.30h5.7M822.44 74.30h-5.7M636.48 61.02h11.3M822.44 61.02h-11.3M636.48 47.74h5.7M822.44 47.74h-5.7M636.48 34.46h5.7M822.44 34.46h-5.7M636.48 21.18h5.7M822.44 21.18h-5.7M636.48 7.90h5.7M822.44 7.90h-5.7" fill="none" stroke="#000" stroke-width="2.6" stroke-linecap="round" stroke-linejoin="round"/><g fill="none" stroke-linejoin="round" stroke-linecap="round"><polyline points="636.5,193.8 636.5,193.6 636.7,193.3 636.9,192.7 637.1,192.1 637.4,191.4 637.7,190.5 638,189.6 638.4,188.6 638.8,187.5 639.2,186.4 639.7,185.1 640.1,183.9 640.6,182.5 641.2,181.1 641.7,179.6 642.3,178.1 642.9,176.5 643.5,174.9 644.1,173.2 644.7,171.5 645.4,169.7 646.1,167.9 646.8,166.1 647.5,164.2 648.3,162.3 649.1,160.4 649.8,158.4 650.6,156.4 651.5,154.5 652.3,152.4 653.1,150.4 654,148.4 654.9,146.4 655.8,144.3 656.7,142.3 657.6,140.3 658.6,138.2 659.6,136.2 660.5,134.2 661.5,132.2 662.5,130.3 663.6,128.3 664.6,126.4 665.7,124.5 666.7,122.6 667.8,120.8 668.9,118.9 670,117.2 671.1,115.4 672.3,113.7 673.4,112 674.6,110.4 675.8,108.8 677,107.2 678.2,105.7 679.4,104.2 680.6,102.8 681.9,101.4 683.1,100 684.4,98.7 685.7,97.4 687,96.2 688.3,95 689.6,93.8 691,92.7 692.3,91.6 693.7,90.5 695,89.5 696.4,88.6 697.8,87.6 699.2,86.7 700.7,85.8 702.1,85 703.5,84.2 705,83.4 706.5,82.7 707.9,82 709.4,81.3 710.9,80.6 712.4,80 714,79.4 715.5,78.8 717,78.3 718.6,77.8 720.2,77.3 721.8,76.8 723.3,76.3 724.9,75.9 726.6,75.5 728.2,75.1 729.8,74.8 731.5,74.4 733.1,74.1 734.8,73.8 736.5,73.5 738.2,73.2 739.9,73 741.6,72.7 743.3,72.5 745,72.3 746.8,72.1 748.5,72 750.3,71.8 752.1,71.7 753.8,71.5 755.6,71.4 757.4,71.3 759.3,71.2 761.1,71.2 762.9,71.1 764.8,71.1 766.6,71 768.5,71 770.3,71 772.2,71 774.1,71 776,71 777.9,71.1 779.9,71.1 781.8,71.1 783.7,71.2 785.7,71.3 787.6,71.4 789.6,71.4 791.6,71.5 793.6,71.6 795.6,71.8 797.6,71.9 799.6,72 801.6,72.1 803.7,72.3 805.7,72.4 807.8,72.6 809.9,72.8 811.9,72.9 814,73.1 816.1,73.3 818.2,73.5 820.3,73.7 822.4,73.8" stroke="#000000" stroke-width="5.8"/><polyline points="636.5,193.8 636.5,193.7 636.7,193.4 636.9,192.9 637.1,192.4 637.4,191.8 637.7,191.1 638,190.3 638.4,189.5 638.8,188.6 639.2,187.7 639.7,186.7 640.1,185.6 640.6,184.5 641.2,183.3 641.7,182.1 642.3,180.8 642.9,179.5 643.5,178.2 644.1,176.8 644.7,175.4 645.4,174 646.1,172.5 646.8,171 647.5,169.5 648.3,167.9 649.1,166.3 649.8,164.8 650.6,163.2 651.5,161.6 652.3,159.9 653.1,158.3 654,156.7 654.9,155.1 655.8,153.5 656.7,151.9 657.6,150.3 658.6,148.7 659.6,147.1 660.5,145.6 661.5,144.1 662.5,142.5 663.6,141.1 664.6,139.6 665.7,138.2 666.7,136.8 667.8,135.5 668.9,134.2 670,132.9 671.1,131.6 672.3,130.4 673.4,129.3 674.6,128.2 675.8,127.1 677,126.1 678.2,125.1 679.4,124.1 680.6,123.2 681.9,122.4 683.1,121.5 684.4,120.8 685.7,120 687,119.4 688.3,118.7 689.6,118.1 691,117.5 692.3,117 693.7,116.5 695,116.1 696.4,115.6 697.8,115.3 699.2,114.9 700.7,114.6 702.1,114.3 703.5,114.1 705,113.9 706.5,113.7 707.9,113.5 709.4,113.4 710.9,113.2 712.4,113.2 714,113.1 715.5,113.1 717,113 718.6,113 720.2,113.1 721.8,113.1 723.3,113.1 724.9,113.2 726.6,113.3 728.2,113.4 729.8,113.5 731.5,113.6 733.1,113.8 734.8,113.9 736.5,114.1 738.2,114.3 739.9,114.5 741.6,114.7 743.3,114.9 745,115.1 746.8,115.3 748.5,115.5 750.3,115.8 752.1,116 753.8,116.2 755.6,116.5 757.4,116.7 759.3,117 761.1,117.3 762.9,117.5 764.8,117.8 766.6,118.1 768.5,118.4 770.3,118.6 772.2,118.9 774.1,119.2 776,119.5 777.9,119.8 779.9,120.1 781.8,120.3 783.7,120.6 785.7,120.9 787.6,121.2 789.6,121.5 791.6,121.8 793.6,122.1 795.6,122.4 797.6,122.7 799.6,123 801.6,123.3 803.7,123.6 805.7,123.9 807.8,124.2 809.9,124.4 811.9,124.7 814,125 816.1,125.3 818.2,125.6 820.3,125.9 822.4,126.2" stroke="#ff8000" stroke-width="3.0" stroke-dasharray="39 39.6" stroke-dashoffset="0.5"/><polyline points="636.5,193.8 636.5,193.7 636.7,193.6 636.9,193.4 637.1,193.2 637.4,192.9 637.7,192.5 638,192.2 638.4,191.8 638.8,191.4 639.2,190.9 639.7,190.5 640.1,189.9 640.6,189.4 641.2,188.9 641.7,188.3 642.3,187.7 642.9,187.1 643.5,186.5 644.1,185.8 644.7,185.1 645.4,184.5 646.1,183.8 646.8,183 647.5,182.3 648.3,181.6 649.1,180.8 649.8,180.1 650.6,179.3 651.5,178.5 652.3,177.7 653.1,177 654,176.2 654.9,175.4 655.8,174.6 656.7,173.8 657.6,173 658.6,172.2 659.6,171.5 660.5,170.7 661.5,169.9 662.5,169.1 663.6,168.4 664.6,167.7 665.7,166.9 666.7,166.2 667.8,165.5 668.9,164.8 670,164.1 671.1,163.5 672.3,162.8 673.4,162.2 674.6,161.6 675.8,161 677,160.4 678.2,159.9 679.4,159.3 680.6,158.8 681.9,158.3 683.1,157.9 684.4,157.4 685.7,157 687,156.6 688.3,156.2 689.6,155.8 691,155.4 692.3,155.1 693.7,154.8 695,154.5 696.4,154.2 697.8,153.9 699.2,153.7 700.7,153.5 702.1,153.2 703.5,153.1 705,152.9 706.5,152.7 707.9,152.6 709.4,152.4 710.9,152.3 712.4,152.2 714,152.1 715.5,152 717,152 718.6,151.9 720.2,151.9 721.8,151.8 723.3,151.8 724.9,151.8 726.6,151.8 728.2,151.8 729.8,151.8 731.5,151.8 733.1,151.8 734.8,151.9 736.5,151.9 738.2,152 739.9,152 741.6,152.1 743.3,152.2 745,152.2 746.8,152.3 748.5,152.4 750.3,152.5 752.1,152.6 753.8,152.7 755.6,152.8 757.4,152.9 759.3,153 761.1,153.1 762.9,153.2 764.8,153.3 766.6,153.5 768.5,153.6 770.3,153.7 772.2,153.8 774.1,154 776,154.1 777.9,154.2 779.9,154.3 781.8,154.5 783.7,154.6 785.7,154.8 787.6,154.9 789.6,155 791.6,155.2 793.6,155.3 795.6,155.5 797.6,155.6 799.6,155.7 801.6,155.9 803.7,156 805.7,156.2 807.8,156.3 809.9,156.5 811.9,156.6 814,156.7 816.1,156.9 818.2,157 820.3,157.2 822.4,157.3" stroke="#1e8cff" stroke-width="3.0" stroke-dasharray="31.5 24.5 3.5 23" stroke-dashoffset="0"/><polyline points="636.5,193.8 636.5,193.7 636.7,193.6 636.9,193.4 637.1,193.1 637.4,192.8 637.7,192.5 638,192.1 638.4,191.7 638.8,191.2 639.2,190.8 639.7,190.3 640.1,189.7 640.6,189.2 641.2,188.6 641.7,188 642.3,187.4 642.9,186.7 643.5,186 644.1,185.3 644.7,184.6 645.4,183.9 646.1,183.1 646.8,182.3 647.5,181.5 648.3,180.7 649.1,179.9 649.8,179 650.6,178.1 651.5,177.2 652.3,176.3 653.1,175.4 654,174.5 654.9,173.5 655.8,172.6 656.7,171.6 657.6,170.6 658.6,169.6 659.6,168.6 660.5,167.6 661.5,166.5 662.5,165.5 663.6,164.4 664.6,163.4 665.7,162.3 666.7,161.3 667.8,160.2 668.9,159.1 670,158 671.1,156.9 672.3,155.8 673.4,154.8 674.6,153.7 675.8,152.6 677,151.5 678.2,150.4 679.4,149.3 680.6,148.2 681.9,147.1 683.1,146 684.4,144.9 685.7,143.9 687,142.8 688.3,141.7 689.6,140.7 691,139.6 692.3,138.6 693.7,137.5 695,136.5 696.4,135.5 697.8,134.5 699.2,133.5 700.7,132.5 702.1,131.6 703.5,130.6 705,129.7 706.5,128.7 707.9,127.8 709.4,126.9 710.9,126 712.4,125.1 714,124.3 715.5,123.4 717,122.6 718.6,121.8 720.2,121 721.8,120.2 723.3,119.5 724.9,118.7 726.6,118 728.2,117.3 729.8,116.6 731.5,115.9 733.1,115.3 734.8,114.6 736.5,114 738.2,113.4 739.9,112.8 741.6,112.2 743.3,111.7 745,111.1 746.8,110.6 748.5,110.1 750.3,109.6 752.1,109.2 753.8,108.7 755.6,108.3 757.4,107.9 759.3,107.5 761.1,107.1 762.9,106.7 764.8,106.3 766.6,106 768.5,105.7 770.3,105.4 772.2,105.1 774.1,104.8 776,104.5 777.9,104.3 779.9,104 781.8,103.8 783.7,103.6 785.7,103.4 787.6,103.2 789.6,103 791.6,102.9 793.6,102.7 795.6,102.6 797.6,102.4 799.6,102.3 801.6,102.2 803.7,102.1 805.7,102 807.8,102 809.9,101.9 811.9,101.9 814,101.8 816.1,101.8" stroke="#555555" stroke-width="3.4" stroke-dasharray="2.9 24.2" stroke-dashoffset="-0.5"/></g><path d="M78.60 193.82H264.56V380.14H78.60ZM78.60 380.14v-11.5M78.60 193.82v11.5M87.46 380.14v-6.0M87.46 193.82v6.0M96.31 380.14v-6.0M96.31 193.82v6.0M105.17 380.14v-6.0M105.17 193.82v6.0M114.02 380.14v-6.0M114.02 193.82v6.0M122.88 380.14v-11.5M122.88 193.82v11.5M131.73 380.14v-6.0M131.73 193.82v6.0M140.59 380.14v-6.0M140.59 193.82v6.0M149.44 380.14v-6.0M149.44 193.82v6.0M158.30 380.14v-6.0M158.30 193.82v6.0M167.15 380.14v-11.5M167.15 193.82v11.5M176.01 380.14v-6.0M176.01 193.82v6.0M184.86 380.14v-6.0M184.86 193.82v6.0M193.72 380.14v-6.0M193.72 193.82v6.0M202.57 380.14v-6.0M202.57 193.82v6.0M211.43 380.14v-11.5M211.43 193.82v11.5M220.28 380.14v-6.0M220.28 193.82v6.0M229.14 380.14v-6.0M229.14 193.82v6.0M237.99 380.14v-6.0M237.99 193.82v6.0M246.85 380.14v-6.0M246.85 193.82v6.0M255.70 380.14v-11.5M255.70 193.82v11.5M264.56 380.14v-6.0M264.56 193.82v6.0M78.60 380.14h11.3M264.56 380.14h-11.3M78.60 366.86h5.7M264.56 366.86h-5.7M78.60 353.58h5.7M264.56 353.58h-5.7M78.60 340.30h5.7M264.56 340.30h-5.7M78.60 327.02h5.7M264.56 327.02h-5.7M78.60 313.74h11.3M264.56 313.74h-11.3M78.60 300.46h5.7M264.56 300.46h-5.7M78.60 287.18h5.7M264.56 287.18h-5.7M78.60 273.90h5.7M264.56 273.90h-5.7M78.60 260.62h5.7M264.56 260.62h-5.7M78.60 247.34h11.3M264.56 247.34h-11.3M78.60 234.06h5.7M264.56 234.06h-5.7M78.60 220.78h5.7M264.56 220.78h-5.7M78.60 207.50h5.7M264.56 207.50h-5.7M78.60 194.22h5.7M264.56 194.22h-5.7" fill="none" stroke="#000" stroke-width="2.6" stroke-linecap="round" stroke-linejoin="round"/><g fill="none" stroke-linejoin="round" stroke-linecap="round"><polyline points="78.6,380.1 78.6,379.7 78.7,378.9 78.8,377.7 78.9,376.3 79,374.7 79.2,372.9 79.4,370.9 79.5,368.7 79.7,366.3 80,363.8 80.2,361.1 80.4,358.4 80.7,355.5 80.9,352.5 81.2,349.4 81.5,346.2 81.8,343 82.1,339.7 82.4,336.4 82.7,333.1 83,329.7 83.4,326.4 83.7,323 84.1,319.7 84.5,316.5 84.8,313.2 85.2,310.1 85.6,306.9 86,303.9 86.4,300.9 86.9,298 87.3,295.2 87.7,292.5 88.2,289.9 88.6,287.3 89.1,284.9 89.6,282.5 90,280.2 90.5,278 91,275.9 91.5,273.8 92,271.9 92.6,270 93.1,268.2 93.6,266.5 94.1,264.8 94.7,263.2 95.2,261.7 95.8,260.2 96.4,258.8 96.9,257.5 97.5,256.2 98.1,255 98.7,253.9 99.3,252.7 99.9,251.7 100.5,250.7 101.1,249.7 101.7,248.8 102.4,248 103,247.2 103.7,246.4 104.3,245.7 105,245 105.6,244.4 106.3,243.8 107,243.2 107.6,242.7 108.3,242.2 109,241.8 109.7,241.4 110.4,241 111.1,240.6 111.9,240.3 112.6,240 113.3,239.8 114,239.6 114.8,239.4 115.5,239.2 116.3,239 117,238.9 117.8,238.8 118.6,238.7 119.3,238.6 120.1,238.6 120.9,238.6 121.7,238.6 122.5,238.6 123.3,238.6 124.1,238.7 124.9,238.7 125.7,238.8 126.5,238.9 127.4,239 128.2,239.1 129,239.2 129.9,239.4 130.7,239.6 131.6,239.7 132.4,239.9 133.3,240.1 134.2,240.3 135,240.5 135.9,240.7 136.8,241 137.7,241.2 138.6,241.4 139.5,241.7 140.4,241.9 141.3,242.2 142.2,242.5 143.1,242.8 144.1,243.1 145,243.4 145.9,243.7 146.9,244 147.8,244.3 148.8,244.6 149.7,244.9 150.7,245.2 151.6,245.6 152.6,245.9 153.6,246.2 154.6,246.6 155.5,246.9 156.5,247.3 157.5,247.6 158.5,248 159.5,248.3 160.5,248.7 161.5,249.1 162.6,249.4 163.6,249.8 164.6,250.2 165.6,250.5 166.7,250.9 167.7,251.3 168.7,251.7 169.8,252.1 170.8,252.4" stroke="#000000" stroke-width="5.8"/><polyline points="78.6,380.1 78.6,379.8 78.7,379.1 78.8,378.1 78.9,376.9 79,375.6 79.2,374 79.4,372.3 79.5,370.5 79.7,368.5 80,366.4 80.2,364.2 80.4,361.9 80.7,359.5 80.9,357 81.2,354.5 81.5,351.9 81.8,349.3 82.1,346.6 82.4,344 82.7,341.3 83,338.7 83.4,336.1 83.7,333.6 84.1,331.1 84.5,328.7 84.8,326.3 85.2,324.1 85.6,321.9 86,319.9 86.4,317.9 86.9,316.1 87.3,314.4 87.7,312.8 88.2,311.4 88.6,310 89.1,308.8 89.6,307.7 90,306.7 90.5,305.8 91,305 91.5,304.4 92,303.8 92.6,303.3 93.1,302.9 93.6,302.6 94.1,302.3 94.7,302.1 95.2,302 95.8,302 96.4,302 96.9,302 97.5,302.2 98.1,302.3 98.7,302.5 99.3,302.7 99.9,303 100.5,303.3 101.1,303.6 101.7,303.9 102.4,304.3 103,304.7 103.7,305.1 104.3,305.5 105,305.9 105.6,306.3 106.3,306.8 107,307.2 107.6,307.7 108.3,308.2 109,308.6 109.7,309.1 110.4,309.6 111.1,310.1 111.9,310.5 112.6,311 113.3,311.5 114,312 114.8,312.5 115.5,312.9 116.3,313.4 117,313.9 117.8,314.4 118.6,314.8 119.3,315.3 120.1,315.8 120.9,316.2 121.7,316.7 122.5,317.1 123.3,317.6 124.1,318 124.9,318.4 125.7,318.9 126.5,319.3 127.4,319.7 128.2,320.1 129,320.6 129.9,321 130.7,321.4 131.6,321.8 132.4,322.2 133.3,322.6 134.2,323 135,323.3 135.9,323.7 136.8,324.1 137.7,324.5 138.6,324.8 139.5,325.2 140.4,325.6 141.3,325.9 142.2,326.3 143.1,326.6 144.1,326.9 145,327.3 145.9,327.6 146.9,327.9 147.8,328.3 148.8,328.6 149.7,328.9 150.7,329.2 151.6,329.5 152.6,329.8 153.6,330.1 154.6,330.4 155.5,330.7 156.5,331 157.5,331.3 158.5,331.6 159.5,331.9 160.5,332.1 161.5,332.4 162.6,332.7 163.6,332.9 164.6,333.2 165.6,333.5 166.7,333.7 167.7,334 168.7,334.2 169.8,334.5 170.8,334.7" stroke="#ff0000" stroke-width="3.3"/><polyline points="78.6,380.1 78.6,379.9 78.7,379.5 78.8,378.9 78.9,378.2 79,377.4 79.2,376.5 79.4,375.5 79.5,374.4 79.7,373.2 80,371.9 80.2,370.6 80.4,369.2 80.7,367.7 80.9,366.1 81.2,364.5 81.5,362.9 81.8,361.1 82.1,359.4 82.4,357.5 82.7,355.7 83,353.7 83.4,351.8 83.7,349.8 84.1,347.8 84.5,345.7 84.8,343.7 85.2,341.6 85.6,339.5 86,337.3 86.4,335.2 86.9,333.1 87.3,330.9 87.7,328.8 88.2,326.7 88.6,324.6 89.1,322.5 89.6,320.4 90,318.4 90.5,316.4 91,314.4 91.5,312.5 92,310.5 92.6,308.7 93.1,306.8 93.6,305.1 94.1,303.3 94.7,301.6 95.2,300 95.8,298.4 96.4,296.9 96.9,295.4 97.5,294 98.1,292.7 98.7,291.4 99.3,290.1 99.9,288.9 100.5,287.8 101.1,286.8 101.7,285.7 102.4,284.8 103,283.9 103.7,283.1 104.3,282.3 105,281.5 105.6,280.9 106.3,280.2 107,279.7 107.6,279.1 108.3,278.6 109,278.2 109.7,277.8 110.4,277.5 111.1,277.1 111.9,276.9 112.6,276.6 113.3,276.4 114,276.3 114.8,276.1 115.5,276 116.3,276 117,275.9 117.8,275.9 118.6,275.9 119.3,276 120.1,276 120.9,276.1 121.7,276.2 122.5,276.4 123.3,276.5 124.1,276.7 124.9,276.9 125.7,277.1 126.5,277.3 127.4,277.5 128.2,277.7 129,278 129.9,278.3 130.7,278.5 131.6,278.8 132.4,279.1 133.3,279.4 134.2,279.7 135,280.1 135.9,280.4 136.8,280.7 137.7,281.1 138.6,281.4 139.5,281.8 140.4,282.1 141.3,282.5 142.2,282.9 143.1,283.2 144.1,283.6 145,284 145.9,284.3 146.9,284.7 147.8,285.1 148.8,285.5 149.7,285.9 150.7,286.3 151.6,286.6 152.6,287 153.6,287.4 154.6,287.8 155.5,288.2 156.5,288.6 157.5,289 158.5,289.3 159.5,289.7 160.5,290.1 161.5,290.5 162.6,290.9 163.6,291.3 164.6,291.6 165.6,292 166.7,292.4 167.7,292.8 168.7,293.1 169.8,293.5 170.8,293.9" stroke="#ff8000" stroke-width="3.0" stroke-dasharray="39 39.6" stroke-dashoffset="0.5"/><polyline points="78.6,380.1 78.6,380.1 78.7,380 78.8,379.8 78.9,379.7 79,379.5 79.2,379.2 79.4,379 79.5,378.7 79.7,378.4 80,378.1 80.2,377.7 80.4,377.3 80.7,377 80.9,376.6 81.2,376.2 81.5,375.7 81.8,375.3 82.1,374.8 82.4,374.4 82.7,373.9 83,373.4 83.4,372.9 83.7,372.4 84.1,371.8 84.5,371.3 84.8,370.8 85.2,370.2 85.6,369.7 86,369.1 86.4,368.5 86.9,368 87.3,367.4 87.7,366.8 88.2,366.3 88.6,365.7 89.1,365.1 89.6,364.5 90,364 90.5,363.4 91,362.9 91.5,362.3 92,361.8 92.6,361.2 93.1,360.7 93.6,360.2 94.1,359.7 94.7,359.1 95.2,358.7 95.8,358.2 96.4,357.7 96.9,357.2 97.5,356.8 98.1,356.4 98.7,356 99.3,355.5 99.9,355.2 100.5,354.8 101.1,354.4 101.7,354.1 102.4,353.7 103,353.4 103.7,353.1 104.3,352.8 105,352.5 105.6,352.3 106.3,352 107,351.8 107.6,351.6 108.3,351.3 109,351.1 109.7,351 110.4,350.8 111.1,350.6 111.9,350.5 112.6,350.3 113.3,350.2 114,350.1 114.8,350 115.5,349.9 116.3,349.8 117,349.8 117.8,349.7 118.6,349.6 119.3,349.6 120.1,349.6 120.9,349.5 121.7,349.5 122.5,349.5 123.3,349.5 124.1,349.5 124.9,349.5 125.7,349.5 126.5,349.5 127.4,349.5 128.2,349.6 129,349.6 129.9,349.6 130.7,349.7 131.6,349.7 132.4,349.8 133.3,349.8 134.2,349.9 135,350 135.9,350 136.8,350.1 137.7,350.2 138.6,350.2 139.5,350.3 140.4,350.4 141.3,350.5 142.2,350.6 143.1,350.6 144.1,350.7 145,350.8 145.9,350.9 146.9,351 147.8,351.1 148.8,351.2 149.7,351.3 150.7,351.4 151.6,351.5 152.6,351.6 153.6,351.7 154.6,351.8 155.5,351.9 156.5,352 157.5,352.1 158.5,352.2 159.5,352.3 160.5,352.4 161.5,352.5 162.6,352.6 163.6,352.7 164.6,352.8 165.6,352.9 166.7,353 167.7,353.1 168.7,353.2 169.8,353.3 170.8,353.4" stroke="#1e8cff" stroke-width="3.0" stroke-dasharray="31.5 24.5 3.5 23" stroke-dashoffset="0"/><polyline points="78.6,380.1 78.6,380.1 78.7,379.9 78.8,379.7 78.9,379.5 79,379.2 79.2,378.9 79.4,378.6 79.5,378.2 79.7,377.8 80,377.4 80.2,376.9 80.4,376.4 80.7,375.9 80.9,375.4 81.2,374.8 81.5,374.3 81.8,373.7 82.1,373.1 82.4,372.4 82.7,371.8 83,371.1 83.4,370.4 83.7,369.7 84.1,369 84.5,368.2 84.8,367.5 85.2,366.7 85.6,365.9 86,365.1 86.4,364.3 86.9,363.4 87.3,362.6 87.7,361.7 88.2,360.9 88.6,360 89.1,359.1 89.6,358.2 90,357.3 90.5,356.4 91,355.4 91.5,354.5 92,353.6 92.6,352.6 93.1,351.7 93.6,350.7 94.1,349.7 94.7,348.8 95.2,347.8 95.8,346.8 96.4,345.9 96.9,344.9 97.5,343.9 98.1,343 98.7,342 99.3,341 99.9,340.1 100.5,339.1 101.1,338.2 101.7,337.2 102.4,336.3 103,335.3 103.7,334.4 104.3,333.5 105,332.5 105.6,331.6 106.3,330.7 107,329.8 107.6,329 108.3,328.1 109,327.2 109.7,326.4 110.4,325.6 111.1,324.7 111.9,323.9 112.6,323.1 113.3,322.4 114,321.6 114.8,320.8 115.5,320.1 116.3,319.4 117,318.7 117.8,318 118.6,317.3 119.3,316.6 120.1,316 120.9,315.3 121.7,314.7 122.5,314.1 123.3,313.5 124.1,313 124.9,312.4 125.7,311.9 126.5,311.4 127.4,310.8 128.2,310.4 129,309.9 129.9,309.4 130.7,309 131.6,308.6 132.4,308.2 133.3,307.8 134.2,307.4 135,307 135.9,306.7 136.8,306.3 137.7,306 138.6,305.7 139.5,305.4 140.4,305.1 141.3,304.9 142.2,304.6 143.1,304.4 144.1,304.2 145,303.9 145.9,303.7 146.9,303.6 147.8,303.4 148.8,303.2 149.7,303.1 150.7,302.9 151.6,302.8 152.6,302.7 153.6,302.6 154.6,302.5 155.5,302.4 156.5,302.3 157.5,302.2 158.5,302.2 159.5,302.1 160.5,302.1 161.5,302 162.6,302 163.6,302 164.6,302 165.6,302 166.7,302 167.7,302 168.7,302 169.8,302 170.8,302.1" stroke="#555555" stroke-width="3.4" stroke-dasharray="2.9 24.2" stroke-dashoffset="-0.5"/></g><path d="M264.56 193.82H450.52V380.14H264.56ZM264.56 380.14v-11.5M264.56 193.82v11.5M273.42 380.14v-6.0M273.42 193.82v6.0M282.27 380.14v-6.0M282.27 193.82v6.0M291.13 380.14v-6.0M291.13 193.82v6.0M299.98 380.14v-6.0M299.98 193.82v6.0M308.84 380.14v-11.5M308.84 193.82v11.5M317.69 380.14v-6.0M317.69 193.82v6.0M326.55 380.14v-6.0M326.55 193.82v6.0M335.40 380.14v-6.0M335.40 193.82v6.0M344.26 380.14v-6.0M344.26 193.82v6.0M353.11 380.14v-11.5M353.11 193.82v11.5M361.97 380.14v-6.0M361.97 193.82v6.0M370.82 380.14v-6.0M370.82 193.82v6.0M379.68 380.14v-6.0M379.68 193.82v6.0M388.53 380.14v-6.0M388.53 193.82v6.0M397.39 380.14v-11.5M397.39 193.82v11.5M406.24 380.14v-6.0M406.24 193.82v6.0M415.10 380.14v-6.0M415.10 193.82v6.0M423.95 380.14v-6.0M423.95 193.82v6.0M432.81 380.14v-6.0M432.81 193.82v6.0M441.66 380.14v-11.5M441.66 193.82v11.5M450.52 380.14v-6.0M450.52 193.82v6.0M264.56 380.14h11.3M450.52 380.14h-11.3M264.56 366.86h5.7M450.52 366.86h-5.7M264.56 353.58h5.7M450.52 353.58h-5.7M264.56 340.30h5.7M450.52 340.30h-5.7M264.56 327.02h5.7M450.52 327.02h-5.7M264.56 313.74h11.3M450.52 313.74h-11.3M264.56 300.46h5.7M450.52 300.46h-5.7M264.56 287.18h5.7M450.52 287.18h-5.7M264.56 273.90h5.7M450.52 273.90h-5.7M264.56 260.62h5.7M450.52 260.62h-5.7M264.56 247.34h11.3M450.52 247.34h-11.3M264.56 234.06h5.7M450.52 234.06h-5.7M264.56 220.78h5.7M450.52 220.78h-5.7M264.56 207.50h5.7M450.52 207.50h-5.7M264.56 194.22h5.7M450.52 194.22h-5.7" fill="none" stroke="#000" stroke-width="2.6" stroke-linecap="round" stroke-linejoin="round"/><g fill="none" stroke-linejoin="round" stroke-linecap="round"><polyline points="264.6,380.1 264.6,379.7 264.7,378.9 264.8,377.7 264.9,376.3 265,374.7 265.2,372.9 265.3,370.9 265.5,368.7 265.7,366.3 265.9,363.8 266.1,361.1 266.4,358.4 266.6,355.5 266.9,352.5 267.1,349.4 267.4,346.2 267.7,343 268,339.7 268.3,336.4 268.7,333.1 269,329.7 269.3,326.4 269.7,323 270,319.7 270.4,316.5 270.8,313.2 271.2,310.1 271.6,306.9 272,303.9 272.4,300.9 272.8,298 273.3,295.2 273.7,292.5 274.1,289.9 274.6,287.3 275.1,284.9 275.5,282.5 276,280.2 276.5,278 277,275.9 277.5,273.8 278,271.9 278.5,270 279,268.2 279.6,266.5 280.1,264.8 280.6,263.2 281.2,261.7 281.8,260.2 282.3,258.8 282.9,257.5 283.5,256.2 284.1,255 284.6,253.9 285.2,252.7 285.9,251.7 286.5,250.7 287.1,249.7 287.7,248.8 288.3,248 289,247.2 289.6,246.4 290.3,245.7 290.9,245 291.6,244.4 292.3,243.8 292.9,243.2 293.6,242.7 294.3,242.2 295,241.8 295.7,241.4 296.4,241 297.1,240.6 297.8,240.3 298.5,240 299.3,239.8 300,239.6 300.7,239.4 301.5,239.2 302.2,239 303,238.9 303.8,238.8 304.5,238.7 305.3,238.6 306.1,238.6 306.9,238.6 307.6,238.6 308.4,238.6 309.2,238.6 310,238.7 310.9,238.7 311.7,238.8 312.5,238.9 313.3,239 314.2,239.1 315,239.2 315.8,239.4 316.7,239.6 317.5,239.7 318.4,239.9 319.3,240.1 320.1,240.3 321,240.5 321.9,240.7 322.8,241 323.7,241.2 324.6,241.4 325.5,241.7 326.4,241.9 327.3,242.2 328.2,242.5 329.1,242.8 330,243.1 331,243.4 331.9,243.7 332.8,244 333.8,244.3 334.7,244.6 335.7,244.9 336.6,245.2 337.6,245.6 338.6,245.9 339.5,246.2 340.5,246.6 341.5,246.9 342.5,247.3 343.5,247.6 344.5,248 345.5,248.3 346.5,248.7 347.5,249.1 348.5,249.4 349.5,249.8 350.6,250.2 351.6,250.5 352.6,250.9 353.7,251.3 354.7,251.7 355.8,252.1 356.8,252.4" stroke="#000000" stroke-width="5.8"/><polyline points="264.6,380.1 264.6,379.8 264.7,379.1 264.8,378.1 264.9,376.9 265,375.6 265.2,374 265.3,372.3 265.5,370.5 265.7,368.5 265.9,366.4 266.1,364.2 266.4,361.9 266.6,359.5 266.9,357 267.1,354.5 267.4,351.9 267.7,349.3 268,346.6 268.3,344 268.7,341.3 269,338.7 269.3,336.1 269.7,333.6 270,331.1 270.4,328.7 270.8,326.3 271.2,324.1 271.6,321.9 272,319.9 272.4,317.9 272.8,316.1 273.3,314.4 273.7,312.8 274.1,311.4 274.6,310 275.1,308.8 275.5,307.7 276,306.7 276.5,305.8 277,305 277.5,304.4 278,303.8 278.5,303.3 279,302.9 279.6,302.6 280.1,302.3 280.6,302.1 281.2,302 281.8,302 282.3,302 282.9,302 283.5,302.2 284.1,302.3 284.6,302.5 285.2,302.7 285.9,303 286.5,303.3 287.1,303.6 287.7,303.9 288.3,304.3 289,304.7 289.6,305.1 290.3,305.5 290.9,305.9 291.6,306.3 292.3,306.8 292.9,307.2 293.6,307.7 294.3,308.2 295,308.6 295.7,309.1 296.4,309.6 297.1,310.1 297.8,310.5 298.5,311 299.3,311.5 300,312 300.7,312.5 301.5,312.9 302.2,313.4 303,313.9 303.8,314.4 304.5,314.8 305.3,315.3 306.1,315.8 306.9,316.2 307.6,316.7 308.4,317.1 309.2,317.6 310,318 310.9,318.4 311.7,318.9 312.5,319.3 313.3,319.7 314.2,320.1 315,320.6 315.8,321 316.7,321.4 317.5,321.8 318.4,322.2 319.3,322.6 320.1,323 321,323.3 321.9,323.7 322.8,324.1 323.7,324.5 324.6,324.8 325.5,325.2 326.4,325.6 327.3,325.9 328.2,326.3 329.1,326.6 330,326.9 331,327.3 331.9,327.6 332.8,327.9 333.8,328.3 334.7,328.6 335.7,328.9 336.6,329.2 337.6,329.5 338.6,329.8 339.5,330.1 340.5,330.4 341.5,330.7 342.5,331 343.5,331.3 344.5,331.6 345.5,331.9 346.5,332.1 347.5,332.4 348.5,332.7 349.5,332.9 350.6,333.2 351.6,333.5 352.6,333.7 353.7,334 354.7,334.2 355.8,334.5 356.8,334.7" stroke="#ff0000" stroke-width="3.3"/><polyline points="264.6,380.1 264.6,379.9 264.7,379.5 264.8,378.9 264.9,378.2 265,377.4 265.2,376.5 265.3,375.5 265.5,374.4 265.7,373.2 265.9,371.9 266.1,370.6 266.4,369.2 266.6,367.7 266.9,366.1 267.1,364.5 267.4,362.9 267.7,361.1 268,359.4 268.3,357.5 268.7,355.7 269,353.7 269.3,351.8 269.7,349.8 270,347.8 270.4,345.7 270.8,343.7 271.2,341.6 271.6,339.5 272,337.3 272.4,335.2 272.8,333.1 273.3,330.9 273.7,328.8 274.1,326.7 274.6,324.6 275.1,322.5 275.5,320.4 276,318.4 276.5,316.4 277,314.4 277.5,312.5 278,310.5 278.5,308.7 279,306.8 279.6,305.1 280.1,303.3 280.6,301.6 281.2,300 281.8,298.4 282.3,296.9 282.9,295.4 283.5,294 284.1,292.7 284.6,291.4 285.2,290.1 285.9,288.9 286.5,287.8 287.1,286.8 287.7,285.7 288.3,284.8 289,283.9 289.6,283.1 290.3,282.3 290.9,281.5 291.6,280.9 292.3,280.2 292.9,279.7 293.6,279.1 294.3,278.6 295,278.2 295.7,277.8 296.4,277.5 297.1,277.1 297.8,276.9 298.5,276.6 299.3,276.4 300,276.3 300.7,276.1 301.5,276 302.2,276 303,275.9 303.8,275.9 304.5,275.9 305.3,276 306.1,276 306.9,276.1 307.6,276.2 308.4,276.4 309.2,276.5 310,276.7 310.9,276.9 311.7,277.1 312.5,277.3 313.3,277.5 314.2,277.7 315,278 315.8,278.3 316.7,278.5 317.5,278.8 318.4,279.1 319.3,279.4 320.1,279.7 321,280.1 321.9,280.4 322.8,280.7 323.7,281.1 324.6,281.4 325.5,281.8 326.4,282.1 327.3,282.5 328.2,282.9 329.1,283.2 330,283.6 331,284 331.9,284.3 332.8,284.7 333.8,285.1 334.7,285.5 335.7,285.9 336.6,286.3 337.6,286.6 338.6,287 339.5,287.4 340.5,287.8 341.5,288.2 342.5,288.6 343.5,289 344.5,289.3 345.5,289.7 346.5,290.1 347.5,290.5 348.5,290.9 349.5,291.3 350.6,291.6 351.6,292 352.6,292.4 353.7,292.8 354.7,293.1 355.8,293.5 356.8,293.9" stroke="#ff8000" stroke-width="3.0" stroke-dasharray="39 39.6" stroke-dashoffset="0.5"/><polyline points="264.6,380.1 264.6,380.1 264.7,380 264.8,379.8 264.9,379.7 265,379.5 265.2,379.2 265.3,379 265.5,378.7 265.7,378.4 265.9,378.1 266.1,377.7 266.4,377.3 266.6,377 266.9,376.6 267.1,376.2 267.4,375.7 267.7,375.3 268,374.8 268.3,374.4 268.7,373.9 269,373.4 269.3,372.9 269.7,372.4 270,371.8 270.4,371.3 270.8,370.8 271.2,370.2 271.6,369.7 272,369.1 272.4,368.5 272.8,368 273.3,367.4 273.7,366.8 274.1,366.3 274.6,365.7 275.1,365.1 275.5,364.5 276,364 276.5,363.4 277,362.9 277.5,362.3 278,361.8 278.5,361.2 279,360.7 279.6,360.2 280.1,359.7 280.6,359.1 281.2,358.7 281.8,358.2 282.3,357.7 282.9,357.2 283.5,356.8 284.1,356.4 284.6,356 285.2,355.5 285.9,355.2 286.5,354.8 287.1,354.4 287.7,354.1 288.3,353.7 289,353.4 289.6,353.1 290.3,352.8 290.9,352.5 291.6,352.3 292.3,352 292.9,351.8 293.6,351.6 294.3,351.3 295,351.1 295.7,351 296.4,350.8 297.1,350.6 297.8,350.5 298.5,350.3 299.3,350.2 300,350.1 300.7,350 301.5,349.9 302.2,349.8 303,349.8 303.8,349.7 304.5,349.6 305.3,349.6 306.1,349.6 306.9,349.5 307.6,349.5 308.4,349.5 309.2,349.5 310,349.5 310.9,349.5 311.7,349.5 312.5,349.5 313.3,349.5 314.2,349.6 315,349.6 315.8,349.6 316.7,349.7 317.5,349.7 318.4,349.8 319.3,349.8 320.1,349.9 321,350 321.9,350 322.8,350.1 323.7,350.2 324.6,350.2 325.5,350.3 326.4,350.4 327.3,350.5 328.2,350.6 329.1,350.6 330,350.7 331,350.8 331.9,350.9 332.8,351 333.8,351.1 334.7,351.2 335.7,351.3 336.6,351.4 337.6,351.5 338.6,351.6 339.5,351.7 340.5,351.8 341.5,351.9 342.5,352 343.5,352.1 344.5,352.2 345.5,352.3 346.5,352.4 347.5,352.5 348.5,352.6 349.5,352.7 350.6,352.8 351.6,352.9 352.6,353 353.7,353.1 354.7,353.2 355.8,353.3 356.8,353.4" stroke="#1e8cff" stroke-width="3.0" stroke-dasharray="31.5 24.5 3.5 23" stroke-dashoffset="0"/><polyline points="264.6,380.1 264.6,380.1 264.7,379.9 264.8,379.7 264.9,379.5 265,379.2 265.2,378.9 265.3,378.6 265.5,378.2 265.7,377.8 265.9,377.4 266.1,376.9 266.4,376.4 266.6,375.9 266.9,375.4 267.1,374.8 267.4,374.3 267.7,373.7 268,373.1 268.3,372.4 268.7,371.8 269,371.1 269.3,370.4 269.7,369.7 270,369 270.4,368.2 270.8,367.5 271.2,366.7 271.6,365.9 272,365.1 272.4,364.3 272.8,363.4 273.3,362.6 273.7,361.7 274.1,360.9 274.6,360 275.1,359.1 275.5,358.2 276,357.3 276.5,356.4 277,355.4 277.5,354.5 278,353.6 278.5,352.6 279,351.7 279.6,350.7 280.1,349.7 280.6,348.8 281.2,347.8 281.8,346.8 282.3,345.9 282.9,344.9 283.5,343.9 284.1,343 284.6,342 285.2,341 285.9,340.1 286.5,339.1 287.1,338.2 287.7,337.2 288.3,336.3 289,335.3 289.6,334.4 290.3,333.5 290.9,332.5 291.6,331.6 292.3,330.7 292.9,329.8 293.6,329 294.3,328.1 295,327.2 295.7,326.4 296.4,325.6 297.1,324.7 297.8,323.9 298.5,323.1 299.3,322.4 300,321.6 300.7,320.8 301.5,320.1 302.2,319.4 303,318.7 303.8,318 304.5,317.3 305.3,316.6 306.1,316 306.9,315.3 307.6,314.7 308.4,314.1 309.2,313.5 310,313 310.9,312.4 311.7,311.9 312.5,311.4 313.3,310.8 314.2,310.4 315,309.9 315.8,309.4 316.7,309 317.5,308.6 318.4,308.2 319.3,307.8 320.1,307.4 321,307 321.9,306.7 322.8,306.3 323.7,306 324.6,305.7 325.5,305.4 326.4,305.1 327.3,304.9 328.2,304.6 329.1,304.4 330,304.2 331,303.9 331.9,303.7 332.8,303.6 333.8,303.4 334.7,303.2 335.7,303.1 336.6,302.9 337.6,302.8 338.6,302.7 339.5,302.6 340.5,302.5 341.5,302.4 342.5,302.3 343.5,302.2 344.5,302.2 345.5,302.1 346.5,302.1 347.5,302 348.5,302 349.5,302 350.6,302 351.6,302 352.6,302 353.7,302 354.7,302 355.8,302 356.8,302.1" stroke="#555555" stroke-width="3.4" stroke-dasharray="2.9 24.2" stroke-dashoffset="-0.5"/></g><path d="M450.52 193.82H636.48V380.14H450.52ZM450.52 380.14v-11.5M450.52 193.82v11.5M459.38 380.14v-6.0M459.38 193.82v6.0M468.23 380.14v-6.0M468.23 193.82v6.0M477.09 380.14v-6.0M477.09 193.82v6.0M485.94 380.14v-6.0M485.94 193.82v6.0M494.80 380.14v-11.5M494.80 193.82v11.5M503.65 380.14v-6.0M503.65 193.82v6.0M512.51 380.14v-6.0M512.51 193.82v6.0M521.36 380.14v-6.0M521.36 193.82v6.0M530.22 380.14v-6.0M530.22 193.82v6.0M539.07 380.14v-11.5M539.07 193.82v11.5M547.93 380.14v-6.0M547.93 193.82v6.0M556.78 380.14v-6.0M556.78 193.82v6.0M565.64 380.14v-6.0M565.64 193.82v6.0M574.49 380.14v-6.0M574.49 193.82v6.0M583.35 380.14v-11.5M583.35 193.82v11.5M592.20 380.14v-6.0M592.20 193.82v6.0M601.06 380.14v-6.0M601.06 193.82v6.0M609.91 380.14v-6.0M609.91 193.82v6.0M618.77 380.14v-6.0M618.77 193.82v6.0M627.62 380.14v-11.5M627.62 193.82v11.5M636.48 380.14v-6.0M636.48 193.82v6.0M450.52 380.14h11.3M636.48 380.14h-11.3M450.52 366.86h5.7M636.48 366.86h-5.7M450.52 353.58h5.7M636.48 353.58h-5.7M450.52 340.30h5.7M636.48 340.30h-5.7M450.52 327.02h5.7M636.48 327.02h-5.7M450.52 313.74h11.3M636.48 313.74h-11.3M450.52 300.46h5.7M636.48 300.46h-5.7M450.52 287.18h5.7M636.48 287.18h-5.7M450.52 273.90h5.7M636.48 273.90h-5.7M450.52 260.62h5.7M636.48 260.62h-5.7M450.52 247.34h11.3M636.48 247.34h-11.3M450.52 234.06h5.7M636.48 234.06h-5.7M450.52 220.78h5.7M636.48 220.78h-5.7M450.52 207.50h5.7M636.48 207.50h-5.7M450.52 194.22h5.7M636.48 194.22h-5.7" fill="none" stroke="#000" stroke-width="2.6" stroke-linecap="round" stroke-linejoin="round"/><g fill="none" stroke-linejoin="round" stroke-linecap="round"><polyline points="450.5,380.1 450.6,379.3 450.6,377.6 450.8,375.2 450.9,372.3 451.1,369 451.2,365.3 451.4,361.3 451.7,357 451.9,352.5 452.1,347.9 452.4,343.2 452.7,338.5 453,333.9 453.3,329.4 453.6,325.2 454,321.1 454.3,317.4 454.7,314 455.1,310.8 455.4,308.1 455.8,305.6 456.3,303.5 456.7,301.6 457.1,300 457.6,298.7 458,297.6 458.5,296.6 458.9,295.8 459.4,295.2 459.9,294.6 460.4,294.2 461,293.8 461.5,293.4 462,293.1 462.6,292.8 463.1,292.5 463.7,292.2 464.3,291.9 464.8,291.6 465.4,291.2 466,290.9 466.6,290.5 467.3,290.1 467.9,289.7 468.5,289.2 469.2,288.8 469.8,288.3 470.5,287.8 471.2,287.2 471.8,286.7 472.5,286.1 473.2,285.6 473.9,285 474.6,284.4 475.3,283.8 476.1,283.2 476.8,282.6 477.5,282 478.3,281.4 479.1,280.8 479.8,280.3 480.6,279.7 481.4,279.1 482.2,278.5 483,278 483.8,277.4 484.6,276.9 485.4,276.3 486.2,275.8 487,275.3 487.9,274.8 488.7,274.3 489.6,273.9 490.4,273.4 491.3,273 492.2,272.5 493,272.1 493.9,271.7 494.8,271.3 495.7,270.9 496.6,270.6 497.6,270.2 498.5,269.9 499.4,269.6 500.3,269.3 501.3,269 502.2,268.7 503.2,268.5 504.1,268.2 505.1,268 506.1,267.8 507.1,267.6 508,267.4 509,267.2 510,267 511,266.9 512.1,266.7 513.1,266.6 514.1,266.5 515.1,266.4 516.2,266.3 517.2,266.2 518.3,266.1 519.3,266.1 520.4,266 521.4,266 522.5,266 523.6,265.9 524.7,265.9 525.8,265.9 526.9,266 528,266 529.1,266 530.2,266.1 531.3,266.1 532.4,266.2 533.6,266.3 534.7,266.3 535.9,266.4 537,266.5 538.2,266.6 539.3,266.7 540.5,266.8 541.7,267 542.9,267.1 544,267.2 545.2,267.4 546.4,267.5 547.6,267.7 548.8,267.9 550,268 551.3,268.2 552.5,268.4 553.7,268.6 555,268.8 556.2,269 557.4,269.2 558.7,269.4 559.9,269.6 561.2,269.8" stroke="#000000" stroke-width="5.8"/><polyline points="450.5,380.1 450.6,379.3 450.6,377.6 450.8,375.3 450.9,372.5 451.1,369.2 451.2,365.6 451.4,361.7 451.7,357.5 451.9,353.1 452.1,348.5 452.4,343.9 452.7,339.4 453,334.9 453.3,330.6 453.6,326.5 454,322.7 454.3,319.1 454.7,315.9 455.1,313.1 455.4,310.6 455.8,308.5 456.3,306.7 456.7,305.2 457.1,304.1 457.6,303.2 458,302.6 458.5,302.2 458.9,302 459.4,302 459.9,302.1 460.4,302.4 461,302.8 461.5,303.3 462,303.8 462.6,304.5 463.1,305.2 463.7,305.9 464.3,306.6 464.8,307.4 465.4,308.2 466,309 466.6,309.9 467.3,310.7 467.9,311.5 468.5,312.4 469.2,313.2 469.8,314 470.5,314.8 471.2,315.6 471.8,316.4 472.5,317.2 473.2,318 473.9,318.7 474.6,319.4 475.3,320.2 476.1,320.9 476.8,321.6 477.5,322.3 478.3,322.9 479.1,323.6 479.8,324.3 480.6,324.9 481.4,325.5 482.2,326.1 483,326.7 483.8,327.3 484.6,327.9 485.4,328.4 486.2,329 487,329.5 487.9,330 488.7,330.6 489.6,331.1 490.4,331.5 491.3,332 492.2,332.5 493,333 493.9,333.4 494.8,333.9 495.7,334.3 496.6,334.7 497.6,335.2 498.5,335.6 499.4,336 500.3,336.4 501.3,336.8 502.2,337.1 503.2,337.5 504.1,337.9 505.1,338.3 506.1,338.6 507.1,339 508,339.3 509,339.6 510,340 511,340.3 512.1,340.6 513.1,340.9 514.1,341.2 515.1,341.5 516.2,341.8 517.2,342.1 518.3,342.4 519.3,342.7 520.4,343 521.4,343.3 522.5,343.5 523.6,343.8 524.7,344 525.8,344.3 526.9,344.6 528,344.8 529.1,345.1 530.2,345.3 531.3,345.5 532.4,345.8 533.6,346 534.7,346.2 535.9,346.5 537,346.7 538.2,346.9 539.3,347.1 540.5,347.3 541.7,347.5 542.9,347.7 544,347.9 545.2,348.1 546.4,348.3 547.6,348.5 548.8,348.7 550,348.9 551.3,349.1 552.5,349.3 553.7,349.5 555,349.6 556.2,349.8 557.4,350 558.7,350.2 559.9,350.3 561.2,350.5" stroke="#ff0000" stroke-width="3.3"/><polyline points="450.5,380.1 450.6,380 450.6,379.7 450.8,379.4 450.9,379 451.1,378.4 451.2,377.9 451.4,377.2 451.7,376.5 451.9,375.8 452.1,375 452.4,374.1 452.7,373.3 453,372.3 453.3,371.4 453.6,370.3 454,369.3 454.3,368.2 454.7,367.1 455.1,365.9 455.4,364.8 455.8,363.5 456.3,362.3 456.7,361.1 457.1,359.8 457.6,358.5 458,357.2 458.5,355.9 458.9,354.5 459.4,353.2 459.9,351.9 460.4,350.5 461,349.2 461.5,347.8 462,346.5 462.6,345.2 463.1,343.8 463.7,342.5 464.3,341.2 464.8,339.9 465.4,338.7 466,337.4 466.6,336.2 467.3,335 467.9,333.8 468.5,332.7 469.2,331.6 469.8,330.5 470.5,329.5 471.2,328.4 471.8,327.5 472.5,326.5 473.2,325.6 473.9,324.7 474.6,323.9 475.3,323.1 476.1,322.3 476.8,321.6 477.5,320.9 478.3,320.2 479.1,319.6 479.8,319 480.6,318.4 481.4,317.9 482.2,317.4 483,317 483.8,316.5 484.6,316.2 485.4,315.8 486.2,315.5 487,315.2 487.9,314.9 488.7,314.6 489.6,314.4 490.4,314.2 491.3,314.1 492.2,313.9 493,313.8 493.9,313.7 494.8,313.6 495.7,313.6 496.6,313.5 497.6,313.5 498.5,313.5 499.4,313.5 500.3,313.5 501.3,313.6 502.2,313.6 503.2,313.7 504.1,313.8 505.1,313.9 506.1,314 507.1,314.1 508,314.2 509,314.3 510,314.5 511,314.6 512.1,314.8 513.1,315 514.1,315.1 515.1,315.3 516.2,315.5 517.2,315.7 518.3,315.9 519.3,316.1 520.4,316.3 521.4,316.5 522.5,316.7 523.6,316.9 524.7,317.2 525.8,317.4 526.9,317.6 528,317.9 529.1,318.1 530.2,318.3 531.3,318.6 532.4,318.8 533.6,319 534.7,319.3 535.9,319.5 537,319.8 538.2,320 539.3,320.2 540.5,320.5 541.7,320.7 542.9,321 544,321.2 545.2,321.5 546.4,321.7 547.6,321.9 548.8,322.2 550,322.4 551.3,322.7 552.5,322.9 553.7,323.2 555,323.4 556.2,323.6 557.4,323.9 558.7,324.1 559.9,324.4 561.2,324.6" stroke="#ff8000" stroke-width="3.0" stroke-dasharray="39 39.6" stroke-dashoffset="0.5"/><polyline points="450.5,380.1 450.6,380.1 450.6,380 450.8,379.9 450.9,379.7 451.1,379.5 451.2,379.3 451.4,379.1 451.7,378.8 451.9,378.5 452.1,378.2 452.4,377.9 452.7,377.6 453,377.2 453.3,376.9 453.6,376.5 454,376.1 454.3,375.7 454.7,375.2 455.1,374.8 455.4,374.4 455.8,373.9 456.3,373.5 456.7,373 457.1,372.5 457.6,372 458,371.5 458.5,371 458.9,370.5 459.4,370 459.9,369.5 460.4,368.9 461,368.4 461.5,367.9 462,367.4 462.6,366.8 463.1,366.3 463.7,365.8 464.3,365.3 464.8,364.7 465.4,364.2 466,363.7 466.6,363.2 467.3,362.7 467.9,362.2 468.5,361.8 469.2,361.3 469.8,360.8 470.5,360.4 471.2,359.9 471.8,359.5 472.5,359.1 473.2,358.7 473.9,358.3 474.6,357.9 475.3,357.5 476.1,357.2 476.8,356.8 477.5,356.5 478.3,356.2 479.1,355.9 479.8,355.6 480.6,355.3 481.4,355 482.2,354.8 483,354.5 483.8,354.3 484.6,354.1 485.4,353.9 486.2,353.7 487,353.5 487.9,353.4 488.7,353.2 489.6,353.1 490.4,352.9 491.3,352.8 492.2,352.7 493,352.6 493.9,352.5 494.8,352.4 495.7,352.4 496.6,352.3 497.6,352.2 498.5,352.2 499.4,352.2 500.3,352.1 501.3,352.1 502.2,352.1 503.2,352.1 504.1,352.1 505.1,352.1 506.1,352.1 507.1,352.1 508,352.1 509,352.1 510,352.2 511,352.2 512.1,352.2 513.1,352.3 514.1,352.3 515.1,352.4 516.2,352.4 517.2,352.5 518.3,352.5 519.3,352.6 520.4,352.6 521.4,352.7 522.5,352.8 523.6,352.9 524.7,352.9 525.8,353 526.9,353.1 528,353.2 529.1,353.2 530.2,353.3 531.3,353.4 532.4,353.5 533.6,353.6 534.7,353.7 535.9,353.8 537,353.8 538.2,353.9 539.3,354 540.5,354.1 541.7,354.2 542.9,354.3 544,354.4 545.2,354.5 546.4,354.6 547.6,354.7 548.8,354.8 550,354.9 551.3,355 552.5,355.1 553.7,355.1 555,355.2 556.2,355.3 557.4,355.4 558.7,355.5 559.9,355.6 561.2,355.7" stroke="#1e8cff" stroke-width="3.0" stroke-dasharray="31.5 24.5 3.5 23" stroke-dashoffset="0"/><polyline points="450.5,380.1 450.6,380.1 450.6,379.9 450.8,379.7 450.9,379.4 451.1,379.1 451.2,378.8 451.4,378.4 451.7,378 451.9,377.5 452.1,377 452.4,376.5 452.7,376 453,375.4 453.3,374.8 453.6,374.2 454,373.6 454.3,372.9 454.7,372.2 455.1,371.5 455.4,370.8 455.8,370 456.3,369.3 456.7,368.5 457.1,367.6 457.6,366.8 458,366 458.5,365.1 458.9,364.2 459.4,363.3 459.9,362.4 460.4,361.5 461,360.5 461.5,359.6 462,358.6 462.6,357.6 463.1,356.6 463.7,355.6 464.3,354.6 464.8,353.5 465.4,352.5 466,351.5 466.6,350.4 467.3,349.4 467.9,348.3 468.5,347.2 469.2,346.2 469.8,345.1 470.5,344 471.2,342.9 471.8,341.8 472.5,340.7 473.2,339.7 473.9,338.6 474.6,337.5 475.3,336.4 476.1,335.3 476.8,334.3 477.5,333.2 478.3,332.1 479.1,331.1 479.8,330 480.6,329 481.4,328 482.2,326.9 483,325.9 483.8,324.9 484.6,323.9 485.4,322.9 486.2,322 487,321 487.9,320.1 488.7,319.1 489.6,318.2 490.4,317.3 491.3,316.4 492.2,315.5 493,314.7 493.9,313.8 494.8,313 495.7,312.2 496.6,311.4 497.6,310.6 498.5,309.9 499.4,309.1 500.3,308.4 501.3,307.7 502.2,307 503.2,306.3 504.1,305.7 505.1,305 506.1,304.4 507.1,303.8 508,303.2 509,302.7 510,302.1 511,301.6 512.1,301.1 513.1,300.6 514.1,300.1 515.1,299.7 516.2,299.2 517.2,298.8 518.3,298.4 519.3,298 520.4,297.6 521.4,297.3 522.5,296.9 523.6,296.6 524.7,296.3 525.8,296 526.9,295.7 528,295.4 529.1,295.2 530.2,295 531.3,294.7 532.4,294.5 533.6,294.3 534.7,294.1 535.9,294 537,293.8 538.2,293.7 539.3,293.5 540.5,293.4 541.7,293.3 542.9,293.2 544,293.1 545.2,293 546.4,293 547.6,292.9 548.8,292.9 550,292.8 551.3,292.8 552.5,292.8 553.7,292.8 555,292.8 556.2,292.8 557.4,292.8 558.7,292.8 559.9,292.8 561.2,292.9" stroke="#555555" stroke-width="3.4" stroke-dasharray="2.9 24.2" stroke-dashoffset="-0.5"/></g><path d="M636.48 193.82H822.44V380.14H636.48ZM636.48 380.14v-11.5M636.48 193.82v11.5M645.34 380.14v-6.0M645.34 193.82v6.0M654.19 380.14v-6.0M654.19 193.82v6.0M663.05 380.14v-6.0M663.05 193.82v6.0M671.90 380.14v-6.0M671.90 193.82v6.0M680.76 380.14v-11.5M680.76 193.82v11.5M689.61 380.14v-6.0M689.61 193.82v6.0M698.47 380.14v-6.0M698.47 193.82v6.0M707.32 380.14v-6.0M707.32 193.82v6.0M716.18 380.14v-6.0M716.18 193.82v6.0M725.03 380.14v-11.5M725.03 193.82v11.5M733.89 380.14v-6.0M733.89 193.82v6.0M742.74 380.14v-6.0M742.74 193.82v6.0M751.60 380.14v-6.0M751.60 193.82v6.0M760.45 380.14v-6.0M760.45 193.82v6.0M769.31 380.14v-11.5M769.31 193.82v11.5M778.16 380.14v-6.0M778.16 193.82v6.0M787.02 380.14v-6.0M787.02 193.82v6.0M795.87 380.14v-6.0M795.87 193.82v6.0M804.73 380.14v-6.0M804.73 193.82v6.0M813.58 380.14v-11.5M813.58 193.82v11.5M822.44 380.14v-6.0M822.44 193.82v6.0M636.48 380.14h11.3M822.44 380.14h-11.3M636.48 366.86h5.7M822.44 366.86h-5.7M636.48 353.58h5.7M822.44 353.58h-5.7M636.48 340.30h5.7M822.44 340.30h-5.7M636.48 327.02h5.7M822.44 327.02h-5.7M636.48 313.74h11.3M822.44 313.74h-11.3M636.48 300.46h5.7M822.44 300.46h-5.7M636.48 287.18h5.7M822.44 287.18h-5.7M636.48 273.90h5.7M822.44 273.90h-5.7M636.48 260.62h5.7M822.44 260.62h-5.7M636.48 247.34h11.3M822.44 247.34h-11.3M636.48 234.06h5.7M822.44 234.06h-5.7M636.48 220.78h5.7M822.44 220.78h-5.7M636.48 207.50h5.7M822.44 207.50h-5.7M636.48 194.22h5.7M822.44 194.22h-5.7" fill="none" stroke="#000" stroke-width="2.6" stroke-linecap="round" stroke-linejoin="round"/><g fill="none" stroke-linejoin="round" stroke-linecap="round"><polyline points="636.5,380.1 636.5,380 636.6,379.6 636.8,379.2 636.9,378.6 637.1,378 637.3,377.3 637.6,376.5 637.8,375.6 638.1,374.6 638.4,373.6 638.7,372.6 639.1,371.5 639.4,370.3 639.8,369 640.2,367.8 640.6,366.4 641,365.1 641.5,363.6 641.9,362.2 642.4,360.7 642.9,359.1 643.3,357.6 643.9,356 644.4,354.4 644.9,352.7 645.5,351 646,349.3 646.6,347.6 647.2,345.9 647.8,344.2 648.4,342.4 649,340.7 649.6,338.9 650.3,337.2 650.9,335.4 651.6,333.6 652.3,331.9 652.9,330.2 653.6,328.5 654.4,326.7 655.1,325.1 655.8,323.4 656.5,321.7 657.3,320.1 658.1,318.5 658.8,316.9 659.6,315.4 660.4,313.9 661.2,312.4 662,310.9 662.8,309.5 663.7,308.1 664.5,306.8 665.4,305.5 666.2,304.2 667.1,302.9 668,301.7 668.9,300.6 669.8,299.4 670.7,298.3 671.6,297.2 672.5,296.2 673.5,295.2 674.4,294.2 675.3,293.3 676.3,292.4 677.3,291.5 678.3,290.7 679.2,289.9 680.2,289.1 681.2,288.4 682.3,287.7 683.3,287 684.3,286.3 685.3,285.7 686.4,285.1 687.4,284.5 688.5,283.9 689.6,283.4 690.7,282.9 691.7,282.4 692.8,281.9 693.9,281.5 695.1,281.1 696.2,280.7 697.3,280.3 698.4,279.9 699.6,279.6 700.7,279.3 701.9,279 703.1,278.7 704.2,278.4 705.4,278.1 706.6,277.9 707.8,277.7 709,277.5 710.2,277.3 711.4,277.1 712.7,276.9 713.9,276.8 715.2,276.6 716.4,276.5 717.7,276.4 718.9,276.3 720.2,276.2 721.5,276.1 722.8,276.1 724.1,276 725.4,276 726.7,275.9 728,275.9 729.3,275.9 730.6,275.9 732,275.9 733.3,275.9 734.7,276 736,276 737.4,276 738.8,276.1 740.1,276.2 741.5,276.2 742.9,276.3 744.3,276.4 745.7,276.5 747.1,276.6 748.6,276.7 750,276.8 751.4,276.9 752.9,277 754.3,277.2 755.8,277.3 757.2,277.4 758.7,277.6 760.2,277.7 761.6,277.9 763.1,278.1 764.6,278.2 766.1,278.4 767.6,278.6 769.1,278.8" stroke="#000000" stroke-width="5.8"/><polyline points="636.5,380.1 636.5,380 636.6,379.7 636.8,379.4 636.9,378.9 637.1,378.4 637.3,377.8 637.6,377.1 637.8,376.4 638.1,375.6 638.4,374.8 638.7,373.9 639.1,373 639.4,372 639.8,371 640.2,369.9 640.6,368.8 641,367.7 641.5,366.5 641.9,365.3 642.4,364.1 642.9,362.8 643.3,361.6 643.9,360.3 644.4,358.9 644.9,357.6 645.5,356.2 646,354.9 646.6,353.5 647.2,352.1 647.8,350.7 648.4,349.3 649,347.9 649.6,346.5 650.3,345.1 650.9,343.7 651.6,342.4 652.3,341 652.9,339.7 653.6,338.3 654.4,337 655.1,335.8 655.8,334.5 656.5,333.3 657.3,332.1 658.1,330.9 658.8,329.8 659.6,328.6 660.4,327.6 661.2,326.5 662,325.5 662.8,324.6 663.7,323.6 664.5,322.7 665.4,321.9 666.2,321.1 667.1,320.3 668,319.5 668.9,318.8 669.8,318.2 670.7,317.5 671.6,316.9 672.5,316.4 673.5,315.9 674.4,315.4 675.3,314.9 676.3,314.5 677.3,314.1 678.3,313.8 679.2,313.4 680.2,313.1 681.2,312.9 682.3,312.6 683.3,312.4 684.3,312.2 685.3,312.1 686.4,311.9 687.4,311.8 688.5,311.7 689.6,311.7 690.7,311.6 691.7,311.6 692.8,311.6 693.9,311.6 695.1,311.6 696.2,311.7 697.3,311.7 698.4,311.8 699.6,311.9 700.7,312 701.9,312.1 703.1,312.2 704.2,312.3 705.4,312.4 706.6,312.6 707.8,312.7 709,312.9 710.2,313.1 711.4,313.3 712.7,313.4 713.9,313.6 715.2,313.8 716.4,314 717.7,314.3 718.9,314.5 720.2,314.7 721.5,314.9 722.8,315.1 724.1,315.4 725.4,315.6 726.7,315.8 728,316.1 729.3,316.3 730.6,316.6 732,316.8 733.3,317 734.7,317.3 736,317.5 737.4,317.8 738.8,318 740.1,318.3 741.5,318.6 742.9,318.8 744.3,319.1 745.7,319.3 747.1,319.6 748.6,319.8 750,320.1 751.4,320.3 752.9,320.6 754.3,320.8 755.8,321.1 757.2,321.3 758.7,321.6 760.2,321.8 761.6,322.1 763.1,322.3 764.6,322.6 766.1,322.8 767.6,323.1 769.1,323.3" stroke="#ff8000" stroke-width="3.0" stroke-dasharray="39 39.6" stroke-dashoffset="0.5"/><polyline points="636.5,380.1 636.5,380.1 636.6,379.9 636.8,379.8 636.9,379.6 637.1,379.3 637.3,379 637.6,378.7 637.8,378.4 638.1,378 638.4,377.6 638.7,377.2 639.1,376.8 639.4,376.3 639.8,375.8 640.2,375.3 640.6,374.8 641,374.3 641.5,373.7 641.9,373.2 642.4,372.6 642.9,372 643.3,371.4 643.9,370.8 644.4,370.1 644.9,369.5 645.5,368.8 646,368.2 646.6,367.5 647.2,366.8 647.8,366.2 648.4,365.5 649,364.8 649.6,364.1 650.3,363.4 650.9,362.8 651.6,362.1 652.3,361.4 652.9,360.7 653.6,360.1 654.4,359.4 655.1,358.8 655.8,358.1 656.5,357.5 657.3,356.9 658.1,356.3 658.8,355.7 659.6,355.1 660.4,354.5 661.2,353.9 662,353.4 662.8,352.9 663.7,352.4 664.5,351.9 665.4,351.4 666.2,350.9 667.1,350.5 668,350 668.9,349.6 669.8,349.2 670.7,348.9 671.6,348.5 672.5,348.2 673.5,347.8 674.4,347.5 675.3,347.3 676.3,347 677.3,346.7 678.3,346.5 679.2,346.3 680.2,346 681.2,345.9 682.3,345.7 683.3,345.5 684.3,345.4 685.3,345.2 686.4,345.1 687.4,345 688.5,344.9 689.6,344.8 690.7,344.7 691.7,344.7 692.8,344.6 693.9,344.6 695.1,344.5 696.2,344.5 697.3,344.5 698.4,344.5 699.6,344.5 700.7,344.5 701.9,344.5 703.1,344.5 704.2,344.5 705.4,344.6 706.6,344.6 707.8,344.7 709,344.7 710.2,344.8 711.4,344.8 712.7,344.9 713.9,345 715.2,345 716.4,345.1 717.7,345.2 718.9,345.3 720.2,345.4 721.5,345.5 722.8,345.6 724.1,345.7 725.4,345.8 726.7,345.9 728,346 729.3,346.1 730.6,346.2 732,346.3 733.3,346.4 734.7,346.5 736,346.6 737.4,346.8 738.8,346.9 740.1,347 741.5,347.1 742.9,347.2 744.3,347.4 745.7,347.5 747.1,347.6 748.6,347.7 750,347.8 751.4,348 752.9,348.1 754.3,348.2 755.8,348.3 757.2,348.5 758.7,348.6 760.2,348.7 761.6,348.8 763.1,349 764.6,349.1 766.1,349.2 767.6,349.3 769.1,349.4" stroke="#1e8cff" stroke-width="3.0" stroke-dasharray="31.5 24.5 3.5 23" stroke-dashoffset="0"/><polyline points="636.5,380.1 636.5,380.1 636.6,379.9 636.8,379.8 636.9,379.5 637.1,379.3 637.3,379 637.6,378.6 637.8,378.3 638.1,377.9 638.4,377.5 638.7,377 639.1,376.6 639.4,376.1 639.8,375.6 640.2,375.1 640.6,374.5 641,373.9 641.5,373.4 641.9,372.7 642.4,372.1 642.9,371.5 643.3,370.8 643.9,370.1 644.4,369.4 644.9,368.7 645.5,368 646,367.2 646.6,366.5 647.2,365.7 647.8,364.9 648.4,364.1 649,363.3 649.6,362.5 650.3,361.6 650.9,360.8 651.6,359.9 652.3,359.1 652.9,358.2 653.6,357.3 654.4,356.4 655.1,355.5 655.8,354.6 656.5,353.7 657.3,352.7 658.1,351.8 658.8,350.9 659.6,350 660.4,349 661.2,348.1 662,347.1 662.8,346.2 663.7,345.2 664.5,344.3 665.4,343.4 666.2,342.4 667.1,341.5 668,340.5 668.9,339.6 669.8,338.7 670.7,337.7 671.6,336.8 672.5,335.9 673.5,335 674.4,334.1 675.3,333.2 676.3,332.3 677.3,331.4 678.3,330.5 679.2,329.7 680.2,328.8 681.2,328 682.3,327.1 683.3,326.3 684.3,325.5 685.3,324.7 686.4,323.9 687.4,323.1 688.5,322.4 689.6,321.6 690.7,320.9 691.7,320.2 692.8,319.5 693.9,318.8 695.1,318.1 696.2,317.4 697.3,316.8 698.4,316.1 699.6,315.5 700.7,314.9 701.9,314.3 703.1,313.7 704.2,313.2 705.4,312.6 706.6,312.1 707.8,311.6 709,311.1 710.2,310.6 711.4,310.1 712.7,309.7 713.9,309.3 715.2,308.8 716.4,308.4 717.7,308 718.9,307.6 720.2,307.3 721.5,306.9 722.8,306.6 724.1,306.3 725.4,306 726.7,305.7 728,305.4 729.3,305.1 730.6,304.9 732,304.6 733.3,304.4 734.7,304.2 736,304 737.4,303.8 738.8,303.6 740.1,303.4 741.5,303.2 742.9,303.1 744.3,303 745.7,302.8 747.1,302.7 748.6,302.6 750,302.5 751.4,302.4 752.9,302.3 754.3,302.3 755.8,302.2 757.2,302.1 758.7,302.1 760.2,302.1 761.6,302 763.1,302 764.6,302 766.1,302 767.6,302 769.1,302" stroke="#555555" stroke-width="3.4" stroke-dasharray="2.9 24.2" stroke-dashoffset="-0.5"/></g><path d="M78.60 380.14H264.56V566.46H78.60ZM78.60 566.46v-11.5M78.60 380.14v11.5M87.46 566.46v-6.0M87.46 380.14v6.0M96.31 566.46v-6.0M96.31 380.14v6.0M105.17 566.46v-6.0M105.17 380.14v6.0M114.02 566.46v-6.0M114.02 380.14v6.0M122.88 566.46v-11.5M122.88 380.14v11.5M131.73 566.46v-6.0M131.73 380.14v6.0M140.59 566.46v-6.0M140.59 380.14v6.0M149.44 566.46v-6.0M149.44 380.14v6.0M158.30 566.46v-6.0M158.30 380.14v6.0M167.15 566.46v-11.5M167.15 380.14v11.5M176.01 566.46v-6.0M176.01 380.14v6.0M184.86 566.46v-6.0M184.86 380.14v6.0M193.72 566.46v-6.0M193.72 380.14v6.0M202.57 566.46v-6.0M202.57 380.14v6.0M211.43 566.46v-11.5M211.43 380.14v11.5M220.28 566.46v-6.0M220.28 380.14v6.0M229.14 566.46v-6.0M229.14 380.14v6.0M237.99 566.46v-6.0M237.99 380.14v6.0M246.85 566.46v-6.0M246.85 380.14v6.0M255.70 566.46v-11.5M255.70 380.14v11.5M264.56 566.46v-6.0M264.56 380.14v6.0M78.60 566.46h11.3M264.56 566.46h-11.3M78.60 553.18h5.7M264.56 553.18h-5.7M78.60 539.90h5.7M264.56 539.90h-5.7M78.60 526.62h5.7M264.56 526.62h-5.7M78.60 513.34h5.7M264.56 513.34h-5.7M78.60 500.06h11.3M264.56 500.06h-11.3M78.60 486.78h5.7M264.56 486.78h-5.7M78.60 473.50h5.7M264.56 473.50h-5.7M78.60 460.22h5.7M264.56 460.22h-5.7M78.60 446.94h5.7M264.56 446.94h-5.7M78.60 433.66h11.3M264.56 433.66h-11.3M78.60 420.38h5.7M264.56 420.38h-5.7M78.60 407.10h5.7M264.56 407.10h-5.7M78.60 393.82h5.7M264.56 393.82h-5.7M78.60 380.54h5.7M264.56 380.54h-5.7" fill="none" stroke="#000" stroke-width="2.6" stroke-linecap="round" stroke-linejoin="round"/><g fill="none" stroke-linejoin="round" stroke-linecap="round"><polyline points="78.6,566.5 78.6,566.2 78.6,565.6 78.7,564.9 78.7,563.9 78.8,562.9 78.9,561.7 78.9,560.3 79,558.9 79.1,557.3 79.2,555.6 79.3,553.9 79.4,552.1 79.5,550.1 79.6,548.2 79.8,546.1 79.9,544 80,541.9 80.2,539.8 80.3,537.6 80.4,535.4 80.6,533.2 80.7,530.9 80.9,528.8 81.1,526.6 81.2,524.4 81.4,522.3 81.6,520.2 81.8,518.2 81.9,516.2 82.1,514.2 82.3,512.3 82.5,510.5 82.7,508.7 82.9,507 83.1,505.3 83.3,503.7 83.5,502.2 83.8,500.7 84,499.3 84.2,497.9 84.4,496.6 84.6,495.3 84.9,494.1 85.1,493 85.4,491.9 85.6,490.8 85.8,489.8 86.1,488.8 86.3,487.9 86.6,487 86.8,486.1 87.1,485.3 87.4,484.6 87.6,483.8 87.9,483.1 88.2,482.5 88.5,481.8 88.7,481.2 89,480.7 89.3,480.1 89.6,479.6 89.9,479.1 90.2,478.7 90.5,478.3 90.8,477.9 91.1,477.5 91.4,477.2 91.7,476.8 92,476.5 92.3,476.3 92.6,476 92.9,475.8 93.2,475.6 93.6,475.4 93.9,475.2 94.2,475 94.5,474.9 94.9,474.8 95.2,474.7 95.6,474.6 95.9,474.5 96.2,474.4 96.6,474.4 96.9,474.3 97.3,474.3 97.6,474.3 98,474.3 98.3,474.3 98.7,474.3 99.1,474.4 99.4,474.4 99.8,474.5 100.2,474.5 100.5,474.6 100.9,474.7 101.3,474.8 101.7,474.9 102.1,475 102.4,475.1 102.8,475.2 103.2,475.3 103.6,475.4 104,475.6 104.4,475.7 104.8,475.9 105.2,476 105.6,476.2 106,476.3 106.4,476.5 106.8,476.7 107.2,476.8 107.6,477 108.1,477.2 108.5,477.4 108.9,477.6 109.3,477.8 109.7,478 110.2,478.2 110.6,478.4 111,478.6 111.5,478.8 111.9,479 112.3,479.2 112.8,479.5 113.2,479.7 113.7,479.9 114.1,480.1 114.6,480.4 115,480.6 115.5,480.8 115.9,481 116.4,481.3 116.8,481.5 117.3,481.8 117.8,482 118.2,482.2 118.7,482.5 119.2,482.7 119.6,483 120.1,483.2" stroke="#000000" stroke-width="5.8"/><polyline points="78.6,566.5 78.6,566.2 78.6,565.8 78.7,565.1 78.7,564.3 78.8,563.4 78.9,562.4 78.9,561.3 79,560 79.1,558.7 79.2,557.3 79.3,555.8 79.4,554.3 79.5,552.7 79.6,551 79.8,549.4 79.9,547.6 80,545.9 80.2,544.1 80.3,542.4 80.4,540.6 80.6,538.8 80.7,537.1 80.9,535.4 81.1,533.8 81.2,532.1 81.4,530.6 81.6,529.1 81.8,527.6 81.9,526.3 82.1,525 82.3,523.8 82.5,522.6 82.7,521.6 82.9,520.6 83.1,519.7 83.3,518.9 83.5,518.2 83.8,517.5 84,516.9 84.2,516.4 84.4,515.9 84.6,515.6 84.9,515.2 85.1,515 85.4,514.7 85.6,514.6 85.8,514.5 86.1,514.4 86.3,514.4 86.6,514.4 86.8,514.4 87.1,514.5 87.4,514.6 87.6,514.7 87.9,514.9 88.2,515 88.5,515.2 88.7,515.4 89,515.7 89.3,515.9 89.6,516.1 89.9,516.4 90.2,516.7 90.5,517 90.8,517.3 91.1,517.6 91.4,517.9 91.7,518.2 92,518.5 92.3,518.8 92.6,519.1 92.9,519.4 93.2,519.7 93.6,520.1 93.9,520.4 94.2,520.7 94.5,521 94.9,521.3 95.2,521.7 95.6,522 95.9,522.3 96.2,522.6 96.6,522.9 96.9,523.2 97.3,523.5 97.6,523.8 98,524.1 98.3,524.4 98.7,524.7 99.1,525 99.4,525.3 99.8,525.6 100.2,525.9 100.5,526.2 100.9,526.5 101.3,526.7 101.7,527 102.1,527.3 102.4,527.6 102.8,527.8 103.2,528.1 103.6,528.3 104,528.6 104.4,528.8 104.8,529.1 105.2,529.3 105.6,529.6 106,529.8 106.4,530.1 106.8,530.3 107.2,530.5 107.6,530.8 108.1,531 108.5,531.2 108.9,531.4 109.3,531.7 109.7,531.9 110.2,532.1 110.6,532.3 111,532.5 111.5,532.7 111.9,532.9 112.3,533.1 112.8,533.3 113.2,533.5 113.7,533.7 114.1,533.9 114.6,534.1 115,534.3 115.5,534.5 115.9,534.6 116.4,534.8 116.8,535 117.3,535.2 117.8,535.4 118.2,535.5 118.7,535.7 119.2,535.9 119.6,536 120.1,536.2" stroke="#ff0000" stroke-width="3.3"/><polyline points="78.6,566.5 78.6,566.3 78.6,566 78.7,565.7 78.7,565.2 78.8,564.7 78.9,564 78.9,563.4 79,562.6 79.1,561.8 79.2,561 79.3,560.1 79.4,559.2 79.5,558.2 79.6,557.1 79.8,556.1 79.9,554.9 80,553.8 80.2,552.6 80.3,551.4 80.4,550.1 80.6,548.9 80.7,547.6 80.9,546.2 81.1,544.9 81.2,543.5 81.4,542.1 81.6,540.7 81.8,539.3 81.9,537.9 82.1,536.5 82.3,535.1 82.5,533.7 82.7,532.2 82.9,530.8 83.1,529.4 83.3,528 83.5,526.7 83.8,525.3 84,524 84.2,522.6 84.4,521.3 84.6,520.1 84.9,518.8 85.1,517.6 85.4,516.4 85.6,515.3 85.8,514.1 86.1,513 86.3,512 86.6,511 86.8,510 87.1,509 87.4,508.1 87.6,507.3 87.9,506.5 88.2,505.7 88.5,504.9 88.7,504.2 89,503.5 89.3,502.9 89.6,502.3 89.9,501.7 90.2,501.2 90.5,500.7 90.8,500.3 91.1,499.9 91.4,499.5 91.7,499.1 92,498.8 92.3,498.5 92.6,498.2 92.9,498 93.2,497.8 93.6,497.6 93.9,497.5 94.2,497.3 94.5,497.2 94.9,497.1 95.2,497.1 95.6,497 95.9,497 96.2,497 96.6,497 96.9,497 97.3,497.1 97.6,497.1 98,497.2 98.3,497.3 98.7,497.4 99.1,497.5 99.4,497.6 99.8,497.7 100.2,497.9 100.5,498 100.9,498.2 101.3,498.4 101.7,498.5 102.1,498.7 102.4,498.9 102.8,499.1 103.2,499.3 103.6,499.5 104,499.7 104.4,500 104.8,500.2 105.2,500.4 105.6,500.6 106,500.9 106.4,501.1 106.8,501.4 107.2,501.6 107.6,501.9 108.1,502.1 108.5,502.3 108.9,502.6 109.3,502.9 109.7,503.1 110.2,503.4 110.6,503.6 111,503.9 111.5,504.1 111.9,504.4 112.3,504.6 112.8,504.9 113.2,505.2 113.7,505.4 114.1,505.7 114.6,505.9 115,506.2 115.5,506.4 115.9,506.7 116.4,507 116.8,507.2 117.3,507.5 117.8,507.7 118.2,508 118.7,508.2 119.2,508.5 119.6,508.7 120.1,509" stroke="#ff8000" stroke-width="3.0" stroke-dasharray="39 39.6" stroke-dashoffset="0.5"/><polyline points="78.6,566.5 78.6,566.5 78.6,566.5 78.7,566.5 78.7,566.5 78.8,566.5 78.9,566.5 78.9,566.5 79,566.5 79.1,566.5 79.2,566.5 79.3,566.5 79.4,566.5 79.5,566.5 79.6,566.5 79.8,566.5 79.9,566.5 80,566.5 80.2,566.5 80.3,566.5 80.4,566.5 80.6,566.5 80.7,566.5 80.9,566.5 81.1,566.5 81.2,566.5 81.4,566.5 81.6,566.5 81.8,566.5 81.9,566.5 82.1,566.5 82.3,566.5 82.5,566.5 82.7,566.5 82.9,566.5 83.1,566.5 83.3,566.5 83.5,566.5 83.8,566.5 84,566.5 84.2,566.5 84.4,566.5 84.6,566.5 84.9,566.5 85.1,566.5 85.4,566.5 85.6,566.5 85.8,566.5 86.1,566.5 86.3,566.5 86.6,566.5 86.8,566.5 87.1,566.5 87.4,566.5 87.6,566.5 87.9,566.5 88.2,566.5 88.5,566.5 88.7,566.5 89,566.5 89.3,566.5 89.6,566.5 89.9,566.5 90.2,566.5 90.5,566.5 90.8,566.5 91.1,566.5 91.4,566.5 91.7,566.5 92,566.5 92.3,566.5 92.6,566.5 92.9,566.5 93.2,566.5 93.6,566.5 93.9,566.5 94.2,566.5 94.5,566.5 94.9,566.5 95.2,566.5 95.6,566.5 95.9,566.5 96.2,566.5 96.6,566.5 96.9,566.5 97.3,566.5 97.6,566.5 98,566.5 98.3,566.5 98.7,566.5 99.1,566.5 99.4,566.5 99.8,566.5 100.2,566.5 100.5,566.5 100.9,566.5 101.3,566.5 101.7,566.5 102.1,566.5 102.4,566.5 102.8,566.5 103.2,566.5 103.6,566.5 104,566.5 104.4,566.5 104.8,566.5 105.2,566.5 105.6,566.5 106,566.5 106.4,566.5 106.8,566.5 107.2,566.5 107.6,566.5 108.1,566.5 108.5,566.5 108.9,566.5 109.3,566.5 109.7,566.5 110.2,566.5 110.6,566.5 111,566.5 111.5,566.5 111.9,566.5 112.3,566.5 112.8,566.5 113.2,566.5 113.7,566.5 114.1,566.5 114.6,566.5 115,566.5 115.5,566.5 115.9,566.5 116.4,566.5 116.8,566.5 117.3,566.5 117.8,566.5 118.2,566.5 118.7,566.5 119.2,566.5 119.6,566.5 120.1,566.5" stroke="#1e8cff" stroke-width="3.0" stroke-dasharray="31.5 24.5 3.5 23" stroke-dashoffset="0"/><polyline points="78.6,566.5 78.6,566.4 78.6,566.3 78.7,566.2 78.7,566 78.8,565.9 78.9,565.6 78.9,565.4 79,565.2 79.1,564.9 79.2,564.6 79.3,564.3 79.4,564 79.5,563.7 79.6,563.3 79.8,562.9 79.9,562.5 80,562.2 80.2,561.7 80.3,561.3 80.4,560.9 80.6,560.4 80.7,560 80.9,559.5 81.1,559 81.2,558.5 81.4,558 81.6,557.5 81.8,557 81.9,556.4 82.1,555.9 82.3,555.3 82.5,554.8 82.7,554.2 82.9,553.6 83.1,553 83.3,552.4 83.5,551.8 83.8,551.2 84,550.6 84.2,550 84.4,549.4 84.6,548.7 84.9,548.1 85.1,547.5 85.4,546.8 85.6,546.2 85.8,545.6 86.1,544.9 86.3,544.3 86.6,543.6 86.8,543 87.1,542.3 87.4,541.7 87.6,541 87.9,540.4 88.2,539.7 88.5,539.1 88.7,538.5 89,537.8 89.3,537.2 89.6,536.6 89.9,536 90.2,535.3 90.5,534.7 90.8,534.1 91.1,533.5 91.4,532.9 91.7,532.3 92,531.8 92.3,531.2 92.6,530.6 92.9,530.1 93.2,529.5 93.6,529 93.9,528.5 94.2,527.9 94.5,527.4 94.9,526.9 95.2,526.4 95.6,525.9 95.9,525.5 96.2,525 96.6,524.6 96.9,524.1 97.3,523.7 97.6,523.3 98,522.8 98.3,522.4 98.7,522.1 99.1,521.7 99.4,521.3 99.8,520.9 100.2,520.6 100.5,520.3 100.9,519.9 101.3,519.6 101.7,519.3 102.1,519 102.4,518.7 102.8,518.5 103.2,518.2 103.6,518 104,517.7 104.4,517.5 104.8,517.3 105.2,517 105.6,516.8 106,516.6 106.4,516.5 106.8,516.3 107.2,516.1 107.6,516 108.1,515.8 108.5,515.7 108.9,515.5 109.3,515.4 109.7,515.3 110.2,515.2 110.6,515.1 111,515 111.5,514.9 111.9,514.8 112.3,514.7 112.8,514.7 113.2,514.6 113.7,514.6 114.1,514.5 114.6,514.5 115,514.4 115.5,514.4 115.9,514.4 116.4,514.4 116.8,514.4 117.3,514.4 117.8,514.4 118.2,514.4 118.7,514.4 119.2,514.4 119.6,514.4 120.1,514.4" stroke="#555555" stroke-width="3.4" stroke-dasharray="2.9 24.2" stroke-dashoffset="-0.5"/></g><path d="M264.56 380.14H450.52V566.46H264.56ZM264.56 566.46v-11.5M264.56 380.14v11.5M273.42 566.46v-6.0M273.42 380.14v6.0M282.27 566.46v-6.0M282.27 380.14v6.0M291.13 566.46v-6.0M291.13 380.14v6.0M299.98 566.46v-6.0M299.98 380.14v6.0M308.84 566.46v-11.5M308.84 380.14v11.5M317.69 566.46v-6.0M317.69 380.14v6.0M326.55 566.46v-6.0M326.55 380.14v6.0M335.40 566.46v-6.0M335.40 380.14v6.0M344.26 566.46v-6.0M344.26 380.14v6.0M353.11 566.46v-11.5M353.11 380.14v11.5M361.97 566.46v-6.0M361.97 380.14v6.0M370.82 566.46v-6.0M370.82 380.14v6.0M379.68 566.46v-6.0M379.68 380.14v6.0M388.53 566.46v-6.0M388.53 380.14v6.0M397.39 566.46v-11.5M397.39 380.14v11.5M406.24 566.46v-6.0M406.24 380.14v6.0M415.10 566.46v-6.0M415.10 380.14v6.0M423.95 566.46v-6.0M423.95 380.14v6.0M432.81 566.46v-6.0M432.81 380.14v6.0M441.66 566.46v-11.5M441.66 380.14v11.5M450.52 566.46v-6.0M450.52 380.14v6.0M264.56 566.46h11.3M450.52 566.46h-11.3M264.56 553.18h5.7M450.52 553.18h-5.7M264.56 539.90h5.7M450.52 539.90h-5.7M264.56 526.62h5.7M450.52 526.62h-5.7M264.56 513.34h5.7M450.52 513.34h-5.7M264.56 500.06h11.3M450.52 500.06h-11.3M264.56 486.78h5.7M450.52 486.78h-5.7M264.56 473.50h5.7M450.52 473.50h-5.7M264.56 460.22h5.7M450.52 460.22h-5.7M264.56 446.94h5.7M450.52 446.94h-5.7M264.56 433.66h11.3M450.52 433.66h-11.3M264.56 420.38h5.7M450.52 420.38h-5.7M264.56 407.10h5.7M450.52 407.10h-5.7M264.56 393.82h5.7M450.52 393.82h-5.7M264.56 380.54h5.7M450.52 380.54h-5.7" fill="none" stroke="#000" stroke-width="2.6" stroke-linecap="round" stroke-linejoin="round"/><g fill="none" stroke-linejoin="round" stroke-linecap="round"><polyline points="264.6,566.5 264.6,566.2 264.6,565.6 264.6,564.9 264.7,563.9 264.8,562.8 264.8,561.6 264.9,560.3 265,558.8 265.1,557.2 265.2,555.6 265.3,553.8 265.4,551.9 265.5,550 265.6,548 265.7,546 265.9,543.9 266,541.7 266.1,539.5 266.3,537.3 266.4,535.1 266.6,532.9 266.7,530.6 266.9,528.4 267,526.2 267.2,524 267.4,521.9 267.5,519.7 267.7,517.7 267.9,515.6 268.1,513.7 268.3,511.7 268.5,509.9 268.7,508 268.9,506.3 269.1,504.6 269.3,502.9 269.5,501.4 269.7,499.8 269.9,498.4 270.2,497 270.4,495.6 270.6,494.3 270.8,493 271.1,491.8 271.3,490.7 271.6,489.6 271.8,488.5 272,487.5 272.3,486.5 272.6,485.6 272.8,484.7 273.1,483.9 273.3,483 273.6,482.3 273.9,481.5 274.1,480.8 274.4,480.2 274.7,479.5 275,478.9 275.3,478.4 275.5,477.8 275.8,477.3 276.1,476.8 276.4,476.4 276.7,476 277,475.6 277.3,475.2 277.6,474.8 277.9,474.5 278.3,474.2 278.6,473.9 278.9,473.7 279.2,473.5 279.5,473.3 279.9,473.1 280.2,472.9 280.5,472.7 280.8,472.6 281.2,472.5 281.5,472.4 281.9,472.3 282.2,472.2 282.5,472.2 282.9,472.1 283.2,472.1 283.6,472.1 283.9,472.1 284.3,472.1 284.7,472.1 285,472.1 285.4,472.2 285.8,472.2 286.1,472.3 286.5,472.4 286.9,472.4 287.3,472.5 287.6,472.6 288,472.7 288.4,472.8 288.8,473 289.2,473.1 289.6,473.2 290,473.4 290.4,473.5 290.8,473.7 291.2,473.8 291.6,474 292,474.2 292.4,474.3 292.8,474.5 293.2,474.7 293.6,474.9 294,475.1 294.4,475.3 294.9,475.5 295.3,475.7 295.7,475.9 296.1,476.1 296.6,476.3 297,476.5 297.4,476.7 297.9,477 298.3,477.2 298.7,477.4 299.2,477.7 299.6,477.9 300.1,478.1 300.5,478.4 301,478.6 301.4,478.8 301.9,479.1 302.3,479.3 302.8,479.6 303.3,479.8 303.7,480.1 304.2,480.3 304.7,480.6 305.1,480.8 305.6,481.1 306.1,481.3" stroke="#000000" stroke-width="5.8"/><polyline points="264.6,566.5 264.6,566.2 264.6,565.8 264.6,565.1 264.7,564.3 264.8,563.4 264.8,562.4 264.9,561.3 265,560 265.1,558.7 265.2,557.3 265.3,555.8 265.4,554.3 265.5,552.7 265.6,551 265.7,549.4 265.9,547.6 266,545.9 266.1,544.1 266.3,542.4 266.4,540.6 266.6,538.8 266.7,537.1 266.9,535.4 267,533.8 267.2,532.1 267.4,530.6 267.5,529.1 267.7,527.6 267.9,526.3 268.1,525 268.3,523.8 268.5,522.6 268.7,521.6 268.9,520.6 269.1,519.7 269.3,518.9 269.5,518.2 269.7,517.5 269.9,516.9 270.2,516.4 270.4,515.9 270.6,515.6 270.8,515.2 271.1,515 271.3,514.7 271.6,514.6 271.8,514.5 272,514.4 272.3,514.4 272.6,514.4 272.8,514.4 273.1,514.5 273.3,514.6 273.6,514.7 273.9,514.9 274.1,515 274.4,515.2 274.7,515.4 275,515.7 275.3,515.9 275.5,516.1 275.8,516.4 276.1,516.7 276.4,517 276.7,517.3 277,517.6 277.3,517.9 277.6,518.2 277.9,518.5 278.3,518.8 278.6,519.1 278.9,519.4 279.2,519.7 279.5,520.1 279.9,520.4 280.2,520.7 280.5,521 280.8,521.3 281.2,521.7 281.5,522 281.9,522.3 282.2,522.6 282.5,522.9 282.9,523.2 283.2,523.5 283.6,523.8 283.9,524.1 284.3,524.4 284.7,524.7 285,525 285.4,525.3 285.8,525.6 286.1,525.9 286.5,526.2 286.9,526.5 287.3,526.7 287.6,527 288,527.3 288.4,527.6 288.8,527.8 289.2,528.1 289.6,528.3 290,528.6 290.4,528.8 290.8,529.1 291.2,529.3 291.6,529.6 292,529.8 292.4,530.1 292.8,530.3 293.2,530.5 293.6,530.8 294,531 294.4,531.2 294.9,531.4 295.3,531.7 295.7,531.9 296.1,532.1 296.6,532.3 297,532.5 297.4,532.7 297.9,532.9 298.3,533.1 298.7,533.3 299.2,533.5 299.6,533.7 300.1,533.9 300.5,534.1 301,534.3 301.4,534.5 301.9,534.6 302.3,534.8 302.8,535 303.3,535.2 303.7,535.4 304.2,535.5 304.7,535.7 305.1,535.9 305.6,536 306.1,536.2" stroke="#ff0000" stroke-width="3.3"/><polyline points="264.6,566.5 264.6,566.3 264.6,566 264.6,565.7 264.7,565.2 264.8,564.7 264.8,564 264.9,563.4 265,562.6 265.1,561.8 265.2,561 265.3,560.1 265.4,559.2 265.5,558.2 265.6,557.1 265.7,556.1 265.9,554.9 266,553.8 266.1,552.6 266.3,551.4 266.4,550.1 266.6,548.9 266.7,547.6 266.9,546.2 267,544.9 267.2,543.5 267.4,542.1 267.5,540.7 267.7,539.3 267.9,537.9 268.1,536.5 268.3,535.1 268.5,533.7 268.7,532.2 268.9,530.8 269.1,529.4 269.3,528 269.5,526.7 269.7,525.3 269.9,524 270.2,522.6 270.4,521.3 270.6,520.1 270.8,518.8 271.1,517.6 271.3,516.4 271.6,515.3 271.8,514.1 272,513 272.3,512 272.6,511 272.8,510 273.1,509 273.3,508.1 273.6,507.3 273.9,506.5 274.1,505.7 274.4,504.9 274.7,504.2 275,503.5 275.3,502.9 275.5,502.3 275.8,501.7 276.1,501.2 276.4,500.7 276.7,500.3 277,499.9 277.3,499.5 277.6,499.1 277.9,498.8 278.3,498.5 278.6,498.2 278.9,498 279.2,497.8 279.5,497.6 279.9,497.5 280.2,497.3 280.5,497.2 280.8,497.1 281.2,497.1 281.5,497 281.9,497 282.2,497 282.5,497 282.9,497 283.2,497.1 283.6,497.1 283.9,497.2 284.3,497.3 284.7,497.4 285,497.5 285.4,497.6 285.8,497.7 286.1,497.9 286.5,498 286.9,498.2 287.3,498.4 287.6,498.5 288,498.7 288.4,498.9 288.8,499.1 289.2,499.3 289.6,499.5 290,499.7 290.4,500 290.8,500.2 291.2,500.4 291.6,500.6 292,500.9 292.4,501.1 292.8,501.4 293.2,501.6 293.6,501.9 294,502.1 294.4,502.3 294.9,502.6 295.3,502.9 295.7,503.1 296.1,503.4 296.6,503.6 297,503.9 297.4,504.1 297.9,504.4 298.3,504.6 298.7,504.9 299.2,505.2 299.6,505.4 300.1,505.7 300.5,505.9 301,506.2 301.4,506.4 301.9,506.7 302.3,507 302.8,507.2 303.3,507.5 303.7,507.7 304.2,508 304.7,508.2 305.1,508.5 305.6,508.7 306.1,509" stroke="#ff8000" stroke-width="3.0" stroke-dasharray="39 39.6" stroke-dashoffset="0.5"/><polyline points="264.6,566.5 264.6,566.4 264.6,566.4 264.6,566.3 264.7,566.1 264.8,566 264.8,565.8 264.9,565.7 265,565.5 265.1,565.3 265.2,565.1 265.3,564.8 265.4,564.6 265.5,564.3 265.6,564.1 265.7,563.8 265.9,563.5 266,563.2 266.1,562.9 266.3,562.6 266.4,562.3 266.6,562 266.7,561.6 266.9,561.3 267,560.9 267.2,560.6 267.4,560.2 267.5,559.8 267.7,559.5 267.9,559.1 268.1,558.7 268.3,558.3 268.5,558 268.7,557.6 268.9,557.2 269.1,556.8 269.3,556.4 269.5,556.1 269.7,555.7 269.9,555.3 270.2,554.9 270.4,554.6 270.6,554.2 270.8,553.8 271.1,553.5 271.3,553.1 271.6,552.8 271.8,552.5 272,552.1 272.3,551.8 272.6,551.5 272.8,551.2 273.1,550.9 273.3,550.6 273.6,550.3 273.9,550.1 274.1,549.8 274.4,549.5 274.7,549.3 275,549.1 275.3,548.9 275.5,548.6 275.8,548.4 276.1,548.2 276.4,548.1 276.7,547.9 277,547.7 277.3,547.6 277.6,547.4 277.9,547.3 278.3,547.1 278.6,547 278.9,546.9 279.2,546.8 279.5,546.7 279.9,546.6 280.2,546.5 280.5,546.4 280.8,546.4 281.2,546.3 281.5,546.3 281.9,546.2 282.2,546.2 282.5,546.1 282.9,546.1 283.2,546.1 283.6,546.1 283.9,546 284.3,546 284.7,546 285,546 285.4,546 285.8,546 286.1,546 286.5,546.1 286.9,546.1 287.3,546.1 287.6,546.1 288,546.2 288.4,546.2 288.8,546.2 289.2,546.3 289.6,546.3 290,546.3 290.4,546.4 290.8,546.4 291.2,546.5 291.6,546.5 292,546.6 292.4,546.6 292.8,546.7 293.2,546.7 293.6,546.8 294,546.8 294.4,546.9 294.9,547 295.3,547 295.7,547.1 296.1,547.2 296.6,547.2 297,547.3 297.4,547.3 297.9,547.4 298.3,547.5 298.7,547.5 299.2,547.6 299.6,547.7 300.1,547.7 300.5,547.8 301,547.9 301.4,548 301.9,548 302.3,548.1 302.8,548.2 303.3,548.2 303.7,548.3 304.2,548.4 304.7,548.4 305.1,548.5 305.6,548.6 306.1,548.6" stroke="#1e8cff" stroke-width="3.0" stroke-dasharray="31.5 24.5 3.5 23" stroke-dashoffset="0"/><polyline points="264.6,566.5 264.6,566.4 264.6,566.3 264.6,566.2 264.7,566 264.8,565.9 264.8,565.6 264.9,565.4 265,565.2 265.1,564.9 265.2,564.6 265.3,564.3 265.4,564 265.5,563.7 265.6,563.3 265.7,562.9 265.9,562.5 266,562.2 266.1,561.7 266.3,561.3 266.4,560.9 266.6,560.4 266.7,560 266.9,559.5 267,559 267.2,558.5 267.4,558 267.5,557.5 267.7,557 267.9,556.4 268.1,555.9 268.3,555.3 268.5,554.8 268.7,554.2 268.9,553.6 269.1,553 269.3,552.4 269.5,551.8 269.7,551.2 269.9,550.6 270.2,550 270.4,549.4 270.6,548.7 270.8,548.1 271.1,547.5 271.3,546.8 271.6,546.2 271.8,545.6 272,544.9 272.3,544.3 272.6,543.6 272.8,543 273.1,542.3 273.3,541.7 273.6,541 273.9,540.4 274.1,539.7 274.4,539.1 274.7,538.5 275,537.8 275.3,537.2 275.5,536.6 275.8,536 276.1,535.3 276.4,534.7 276.7,534.1 277,533.5 277.3,532.9 277.6,532.3 277.9,531.8 278.3,531.2 278.6,530.6 278.9,530.1 279.2,529.5 279.5,529 279.9,528.5 280.2,527.9 280.5,527.4 280.8,526.9 281.2,526.4 281.5,525.9 281.9,525.5 282.2,525 282.5,524.6 282.9,524.1 283.2,523.7 283.6,523.3 283.9,522.8 284.3,522.4 284.7,522.1 285,521.7 285.4,521.3 285.8,520.9 286.1,520.6 286.5,520.3 286.9,519.9 287.3,519.6 287.6,519.3 288,519 288.4,518.7 288.8,518.5 289.2,518.2 289.6,518 290,517.7 290.4,517.5 290.8,517.3 291.2,517 291.6,516.8 292,516.6 292.4,516.5 292.8,516.3 293.2,516.1 293.6,516 294,515.8 294.4,515.7 294.9,515.5 295.3,515.4 295.7,515.3 296.1,515.2 296.6,515.1 297,515 297.4,514.9 297.9,514.8 298.3,514.7 298.7,514.7 299.2,514.6 299.6,514.6 300.1,514.5 300.5,514.5 301,514.4 301.4,514.4 301.9,514.4 302.3,514.4 302.8,514.4 303.3,514.4 303.7,514.4 304.2,514.4 304.7,514.4 305.1,514.4 305.6,514.4 306.1,514.4" stroke="#555555" stroke-width="3.4" stroke-dasharray="2.9 24.2" stroke-dashoffset="-0.5"/></g><path d="M450.52 380.14H636.48V566.46H450.52ZM450.52 566.46v-11.5M450.52 380.14v11.5M459.38 566.46v-6.0M459.38 380.14v6.0M468.23 566.46v-6.0M468.23 380.14v6.0M477.09 566.46v-6.0M477.09 380.14v6.0M485.94 566.46v-6.0M485.94 380.14v6.0M494.80 566.46v-11.5M494.80 380.14v11.5M503.65 566.46v-6.0M503.65 380.14v6.0M512.51 566.46v-6.0M512.51 380.14v6.0M521.36 566.46v-6.0M521.36 380.14v6.0M530.22 566.46v-6.0M530.22 380.14v6.0M539.07 566.46v-11.5M539.07 380.14v11.5M547.93 566.46v-6.0M547.93 380.14v6.0M556.78 566.46v-6.0M556.78 380.14v6.0M565.64 566.46v-6.0M565.64 380.14v6.0M574.49 566.46v-6.0M574.49 380.14v6.0M583.35 566.46v-11.5M583.35 380.14v11.5M592.20 566.46v-6.0M592.20 380.14v6.0M601.06 566.46v-6.0M601.06 380.14v6.0M609.91 566.46v-6.0M609.91 380.14v6.0M618.77 566.46v-6.0M618.77 380.14v6.0M627.62 566.46v-11.5M627.62 380.14v11.5M636.48 566.46v-6.0M636.48 380.14v6.0M450.52 566.46h11.3M636.48 566.46h-11.3M450.52 553.18h5.7M636.48 553.18h-5.7M450.52 539.90h5.7M636.48 539.90h-5.7M450.52 526.62h5.7M636.48 526.62h-5.7M450.52 513.34h5.7M636.48 513.34h-5.7M450.52 500.06h11.3M636.48 500.06h-11.3M450.52 486.78h5.7M636.48 486.78h-5.7M450.52 473.50h5.7M636.48 473.50h-5.7M450.52 460.22h5.7M636.48 460.22h-5.7M450.52 446.94h5.7M636.48 446.94h-5.7M450.52 433.66h11.3M636.48 433.66h-11.3M450.52 420.38h5.7M636.48 420.38h-5.7M450.52 407.10h5.7M636.48 407.10h-5.7M450.52 393.82h5.7M636.48 393.82h-5.7M450.52 380.54h5.7M636.48 380.54h-5.7" fill="none" stroke="#000" stroke-width="2.6" stroke-linecap="round" stroke-linejoin="round"/><g fill="none" stroke-linejoin="round" stroke-linecap="round"><polyline points="450.5,566.5 450.5,565.9 450.6,564.7 450.6,563.2 450.7,561.3 450.8,559.1 450.8,556.6 450.9,553.9 451,551.1 451.1,548.1 451.3,545 451.4,541.8 451.5,538.7 451.6,535.6 451.8,532.7 451.9,529.8 452.1,527.1 452.2,524.6 452.4,522.3 452.6,520.3 452.7,518.4 452.9,516.8 453.1,515.3 453.3,514.1 453.5,513.1 453.7,512.2 453.9,511.4 454.1,510.8 454.3,510.3 454.5,509.8 454.8,509.4 455,509.1 455.2,508.9 455.5,508.6 455.7,508.4 455.9,508.2 456.2,508 456.4,507.8 456.7,507.6 457,507.4 457.2,507.2 457.5,506.9 457.8,506.7 458.1,506.4 458.3,506.1 458.6,505.9 458.9,505.5 459.2,505.2 459.5,504.9 459.8,504.5 460.1,504.2 460.4,503.8 460.7,503.4 461,503 461.4,502.6 461.7,502.2 462,501.9 462.3,501.5 462.7,501.1 463,500.7 463.4,500.3 463.7,499.9 464.1,499.5 464.4,499.1 464.8,498.7 465.1,498.3 465.5,498 465.8,497.6 466.2,497.3 466.6,496.9 467,496.6 467.3,496.2 467.7,495.9 468.1,495.6 468.5,495.3 468.9,495 469.3,494.7 469.7,494.4 470.1,494.2 470.5,493.9 470.9,493.7 471.3,493.4 471.7,493.2 472.1,493 472.5,492.8 472.9,492.6 473.4,492.4 473.8,492.2 474.2,492 474.6,491.8 475.1,491.7 475.5,491.5 476,491.4 476.4,491.3 476.9,491.2 477.3,491 477.8,490.9 478.2,490.9 478.7,490.8 479.1,490.7 479.6,490.6 480.1,490.6 480.5,490.5 481,490.5 481.5,490.4 482,490.4 482.4,490.4 482.9,490.3 483.4,490.3 483.9,490.3 484.4,490.3 484.9,490.3 485.4,490.4 485.9,490.4 486.4,490.4 486.9,490.4 487.4,490.5 487.9,490.5 488.4,490.6 488.9,490.6 489.4,490.7 490,490.8 490.5,490.9 491,490.9 491.5,491 492.1,491.1 492.6,491.2 493.1,491.3 493.7,491.4 494.2,491.5 494.8,491.6 495.3,491.7 495.9,491.8 496.4,492 497,492.1 497.5,492.2 498.1,492.3 498.6,492.5 499.2,492.6 499.8,492.7 500.3,492.9" stroke="#000000" stroke-width="5.8"/><polyline points="450.5,566.5 450.5,565.9 450.6,564.8 450.6,563.2 450.7,561.4 450.8,559.2 450.8,556.8 450.9,554.1 451,551.3 451.1,548.4 451.3,545.4 451.4,542.3 451.5,539.3 451.6,536.3 451.8,533.4 451.9,530.7 452.1,528.1 452.2,525.8 452.4,523.6 452.6,521.8 452.7,520.1 452.9,518.7 453.1,517.5 453.3,516.5 453.5,515.7 453.7,515.2 453.9,514.8 454.1,514.5 454.3,514.4 454.5,514.4 454.8,514.5 455,514.6 455.2,514.9 455.5,515.2 455.7,515.6 455.9,516 456.2,516.5 456.4,517 456.7,517.5 457,518 457.2,518.5 457.5,519.1 457.8,519.6 458.1,520.2 458.3,520.7 458.6,521.3 458.9,521.8 459.2,522.4 459.5,522.9 459.8,523.4 460.1,524 460.4,524.5 460.7,525 461,525.5 461.4,526 461.7,526.5 462,527 462.3,527.4 462.7,527.9 463,528.3 463.4,528.8 463.7,529.2 464.1,529.6 464.4,530 464.8,530.4 465.1,530.8 465.5,531.2 465.8,531.6 466.2,532 466.6,532.3 467,532.7 467.3,533.1 467.7,533.4 468.1,533.7 468.5,534.1 468.9,534.4 469.3,534.7 469.7,535 470.1,535.3 470.5,535.6 470.9,535.9 471.3,536.2 471.7,536.5 472.1,536.7 472.5,537 472.9,537.3 473.4,537.5 473.8,537.8 474.2,538 474.6,538.3 475.1,538.5 475.5,538.8 476,539 476.4,539.2 476.9,539.5 477.3,539.7 477.8,539.9 478.2,540.1 478.7,540.3 479.1,540.5 479.6,540.7 480.1,540.9 480.5,541.1 481,541.3 481.5,541.5 482,541.7 482.4,541.9 482.9,542 483.4,542.2 483.9,542.4 484.4,542.6 484.9,542.7 485.4,542.9 485.9,543.1 486.4,543.2 486.9,543.4 487.4,543.5 487.9,543.7 488.4,543.9 488.9,544 489.4,544.1 490,544.3 490.5,544.4 491,544.6 491.5,544.7 492.1,544.9 492.6,545 493.1,545.1 493.7,545.3 494.2,545.4 494.8,545.5 495.3,545.6 495.9,545.8 496.4,545.9 497,546 497.5,546.1 498.1,546.3 498.6,546.4 499.2,546.5 499.8,546.6 500.3,546.7" stroke="#ff0000" stroke-width="3.3"/><polyline points="450.5,566.5 450.5,566.4 450.6,566.2 450.6,566 450.7,565.7 450.8,565.3 450.8,564.9 450.9,564.5 451,564.1 451.1,563.6 451.3,563 451.4,562.5 451.5,561.9 451.6,561.3 451.8,560.6 451.9,559.9 452.1,559.2 452.2,558.5 452.4,557.8 452.6,557 452.7,556.2 452.9,555.4 453.1,554.6 453.3,553.7 453.5,552.9 453.7,552 453.9,551.2 454.1,550.3 454.3,549.4 454.5,548.5 454.8,547.6 455,546.7 455.2,545.8 455.5,544.9 455.7,544 455.9,543.1 456.2,542.3 456.4,541.4 456.7,540.5 457,539.7 457.2,538.8 457.5,538 457.8,537.2 458.1,536.4 458.3,535.6 458.6,534.8 458.9,534.1 459.2,533.4 459.5,532.7 459.8,532 460.1,531.3 460.4,530.7 460.7,530.1 461,529.5 461.4,528.9 461.7,528.4 462,527.9 462.3,527.4 462.7,526.9 463,526.5 463.4,526.1 463.7,525.7 464.1,525.3 464.4,525 464.8,524.6 465.1,524.3 465.5,524.1 465.8,523.8 466.2,523.6 466.6,523.3 467,523.1 467.3,523 467.7,522.8 468.1,522.7 468.5,522.5 468.9,522.4 469.3,522.3 469.7,522.2 470.1,522.2 470.5,522.1 470.9,522.1 471.3,522 471.7,522 472.1,522 472.5,522 472.9,522 473.4,522.1 473.8,522.1 474.2,522.2 474.6,522.2 475.1,522.3 475.5,522.3 476,522.4 476.4,522.5 476.9,522.6 477.3,522.7 477.8,522.8 478.2,522.9 478.7,523 479.1,523.1 479.6,523.2 480.1,523.4 480.5,523.5 481,523.6 481.5,523.8 482,523.9 482.4,524 482.9,524.2 483.4,524.3 483.9,524.5 484.4,524.6 484.9,524.8 485.4,524.9 485.9,525.1 486.4,525.2 486.9,525.4 487.4,525.6 487.9,525.7 488.4,525.9 488.9,526 489.4,526.2 490,526.4 490.5,526.5 491,526.7 491.5,526.9 492.1,527 492.6,527.2 493.1,527.3 493.7,527.5 494.2,527.7 494.8,527.8 495.3,528 495.9,528.2 496.4,528.3 497,528.5 497.5,528.6 498.1,528.8 498.6,529 499.2,529.1 499.8,529.3 500.3,529.4" stroke="#ff8000" stroke-width="3.0" stroke-dasharray="39 39.6" stroke-dashoffset="0.5"/><polyline points="450.5,566.5 450.5,566.4 450.6,566.4 450.6,566.3 450.7,566.2 450.8,566 450.8,565.9 450.9,565.7 451,565.6 451.1,565.4 451.3,565.2 451.4,565 451.5,564.7 451.6,564.5 451.8,564.3 451.9,564 452.1,563.8 452.2,563.5 452.4,563.2 452.6,562.9 452.7,562.6 452.9,562.3 453.1,562 453.3,561.7 453.5,561.4 453.7,561 453.9,560.7 454.1,560.4 454.3,560 454.5,559.7 454.8,559.3 455,559 455.2,558.6 455.5,558.3 455.7,557.9 455.9,557.6 456.2,557.2 456.4,556.9 456.7,556.5 457,556.2 457.2,555.9 457.5,555.5 457.8,555.2 458.1,554.9 458.3,554.5 458.6,554.2 458.9,553.9 459.2,553.6 459.5,553.3 459.8,553 460.1,552.7 460.4,552.4 460.7,552.2 461,551.9 461.4,551.6 461.7,551.4 462,551.2 462.3,550.9 462.7,550.7 463,550.5 463.4,550.3 463.7,550.1 464.1,549.9 464.4,549.7 464.8,549.6 465.1,549.4 465.5,549.2 465.8,549.1 466.2,549 466.6,548.8 467,548.7 467.3,548.6 467.7,548.5 468.1,548.4 468.5,548.3 468.9,548.2 469.3,548.2 469.7,548.1 470.1,548 470.5,548 470.9,547.9 471.3,547.9 471.7,547.9 472.1,547.8 472.5,547.8 472.9,547.8 473.4,547.8 473.8,547.8 474.2,547.7 474.6,547.7 475.1,547.7 475.5,547.7 476,547.8 476.4,547.8 476.9,547.8 477.3,547.8 477.8,547.8 478.2,547.8 478.7,547.9 479.1,547.9 479.6,547.9 480.1,548 480.5,548 481,548 481.5,548.1 482,548.1 482.4,548.2 482.9,548.2 483.4,548.3 483.9,548.3 484.4,548.4 484.9,548.4 485.4,548.5 485.9,548.5 486.4,548.6 486.9,548.6 487.4,548.7 487.9,548.8 488.4,548.8 488.9,548.9 489.4,548.9 490,549 490.5,549 491,549.1 491.5,549.2 492.1,549.2 492.6,549.3 493.1,549.4 493.7,549.4 494.2,549.5 494.8,549.5 495.3,549.6 495.9,549.7 496.4,549.7 497,549.8 497.5,549.9 498.1,549.9 498.6,550 499.2,550.1 499.8,550.1 500.3,550.2" stroke="#1e8cff" stroke-width="3.0" stroke-dasharray="31.5 24.5 3.5 23" stroke-dashoffset="0"/><polyline points="450.5,566.5 450.5,566.4 450.6,566.3 450.6,566.2 450.7,566 450.8,565.8 450.8,565.5 450.9,565.3 451,565 451.1,564.7 451.3,564.4 451.4,564.1 451.5,563.7 451.6,563.3 451.8,562.9 451.9,562.5 452.1,562.1 452.2,561.6 452.4,561.2 452.6,560.7 452.7,560.2 452.9,559.7 453.1,559.2 453.3,558.7 453.5,558.1 453.7,557.6 453.9,557 454.1,556.4 454.3,555.8 454.5,555.2 454.8,554.6 455,554 455.2,553.4 455.5,552.7 455.7,552.1 455.9,551.4 456.2,550.8 456.4,550.1 456.7,549.4 457,548.7 457.2,548 457.5,547.3 457.8,546.6 458.1,545.9 458.3,545.2 458.6,544.5 458.9,543.8 459.2,543.1 459.5,542.4 459.8,541.6 460.1,540.9 460.4,540.2 460.7,539.5 461,538.8 461.4,538 461.7,537.3 462,536.6 462.3,535.9 462.7,535.2 463,534.5 463.4,533.8 463.7,533.1 464.1,532.4 464.4,531.7 464.8,531 465.1,530.3 465.5,529.6 465.8,529 466.2,528.3 466.6,527.7 467,527 467.3,526.4 467.7,525.8 468.1,525.2 468.5,524.6 468.9,524 469.3,523.4 469.7,522.8 470.1,522.3 470.5,521.7 470.9,521.2 471.3,520.6 471.7,520.1 472.1,519.6 472.5,519.1 472.9,518.6 473.4,518.2 473.8,517.7 474.2,517.2 474.6,516.8 475.1,516.4 475.5,516 476,515.6 476.4,515.2 476.9,514.8 477.3,514.4 477.8,514.1 478.2,513.8 478.7,513.4 479.1,513.1 479.6,512.8 480.1,512.5 480.5,512.2 481,512 481.5,511.7 482,511.4 482.4,511.2 482.9,511 483.4,510.8 483.9,510.6 484.4,510.4 484.9,510.2 485.4,510 485.9,509.8 486.4,509.7 486.9,509.5 487.4,509.4 487.9,509.2 488.4,509.1 488.9,509 489.4,508.9 490,508.8 490.5,508.7 491,508.6 491.5,508.6 492.1,508.5 492.6,508.4 493.1,508.4 493.7,508.3 494.2,508.3 494.8,508.3 495.3,508.2 495.9,508.2 496.4,508.2 497,508.2 497.5,508.2 498.1,508.2 498.6,508.2 499.2,508.2 499.8,508.2 500.3,508.3" stroke="#555555" stroke-width="3.4" stroke-dasharray="2.9 24.2" stroke-dashoffset="-0.5"/></g><path d="M636.48 380.14H822.44V566.46H636.48ZM636.48 566.46v-11.5M636.48 380.14v11.5M645.34 566.46v-6.0M645.34 380.14v6.0M654.19 566.46v-6.0M654.19 380.14v6.0M663.05 566.46v-6.0M663.05 380.14v6.0M671.90 566.46v-6.0M671.90 380.14v6.0M680.76 566.46v-11.5M680.76 380.14v11.5M689.61 566.46v-6.0M689.61 380.14v6.0M698.47 566.46v-6.0M698.47 380.14v6.0M707.32 566.46v-6.0M707.32 380.14v6.0M716.18 566.46v-6.0M716.18 380.14v6.0M725.03 566.46v-11.5M725.03 380.14v11.5M733.89 566.46v-6.0M733.89 380.14v6.0M742.74 566.46v-6.0M742.74 380.14v6.0M751.60 566.46v-6.0M751.60 380.14v6.0M760.45 566.46v-6.0M760.45 380.14v6.0M769.31 566.46v-11.5M769.31 380.14v11.5M778.16 566.46v-6.0M778.16 380.14v6.0M787.02 566.46v-6.0M787.02 380.14v6.0M795.87 566.46v-6.0M795.87 380.14v6.0M804.73 566.46v-6.0M804.73 380.14v6.0M813.58 566.46v-11.5M813.58 380.14v11.5M822.44 566.46v-6.0M822.44 380.14v6.0M636.48 566.46h11.3M822.44 566.46h-11.3M636.48 553.18h5.7M822.44 553.18h-5.7M636.48 539.90h5.7M822.44 539.90h-5.7M636.48 526.62h5.7M822.44 526.62h-5.7M636.48 513.34h5.7M822.44 513.34h-5.7M636.48 500.06h11.3M822.44 500.06h-11.3M636.48 486.78h5.7M822.44 486.78h-5.7M636.48 473.50h5.7M822.44 473.50h-5.7M636.48 460.22h5.7M822.44 460.22h-5.7M636.48 446.94h5.7M822.44 446.94h-5.7M636.48 433.66h11.3M822.44 433.66h-11.3M636.48 420.38h5.7M822.44 420.38h-5.7M636.48 407.10h5.7M822.44 407.10h-5.7M636.48 393.82h5.7M822.44 393.82h-5.7M636.48 380.54h5.7M822.44 380.54h-5.7" fill="none" stroke="#000" stroke-width="2.6" stroke-linecap="round" stroke-linejoin="round"/><g fill="none" stroke-linejoin="round" stroke-linecap="round"><polyline points="636.5,566.5 636.5,566.4 636.5,566.1 636.6,565.8 636.7,565.5 636.8,565.1 636.9,564.6 637,564.1 637.1,563.5 637.2,562.9 637.3,562.2 637.5,561.5 637.6,560.8 637.8,560 638,559.2 638.1,558.4 638.3,557.5 638.5,556.6 638.7,555.7 638.9,554.7 639.1,553.7 639.3,552.7 639.5,551.7 639.7,550.7 640,549.6 640.2,548.5 640.4,547.4 640.7,546.3 640.9,545.2 641.2,544 641.5,542.9 641.7,541.8 642,540.6 642.3,539.4 642.6,538.3 642.8,537.1 643.1,536 643.4,534.8 643.7,533.7 644.1,532.5 644.4,531.4 644.7,530.3 645,529.2 645.3,528.1 645.7,527 646,526 646.3,524.9 646.7,523.9 647,522.9 647.4,521.9 647.8,520.9 648.1,520 648.5,519 648.9,518.1 649.2,517.3 649.6,516.4 650,515.6 650.4,514.7 650.8,514 651.2,513.2 651.6,512.4 652,511.7 652.4,511 652.8,510.3 653.2,509.7 653.6,509.1 654.1,508.4 654.5,507.9 654.9,507.3 655.3,506.7 655.8,506.2 656.2,505.7 656.7,505.2 657.1,504.8 657.6,504.3 658,503.9 658.5,503.4 659,503.1 659.4,502.7 659.9,502.3 660.4,502 660.9,501.6 661.4,501.3 661.8,501 662.3,500.7 662.8,500.4 663.3,500.2 663.8,499.9 664.3,499.7 664.8,499.4 665.3,499.2 665.9,499 666.4,498.8 666.9,498.7 667.4,498.5 668,498.3 668.5,498.2 669,498 669.6,497.9 670.1,497.8 670.6,497.7 671.2,497.6 671.7,497.5 672.3,497.4 672.9,497.3 673.4,497.3 674,497.2 674.6,497.1 675.1,497.1 675.7,497.1 676.3,497 676.9,497 677.4,497 678,497 678.6,497 679.2,497 679.8,497 680.4,497 681,497 681.6,497.1 682.2,497.1 682.8,497.1 683.4,497.2 684.1,497.2 684.7,497.3 685.3,497.3 685.9,497.4 686.6,497.5 687.2,497.5 687.8,497.6 688.5,497.7 689.1,497.8 689.8,497.8 690.4,497.9 691.1,498 691.7,498.1 692.4,498.2 693,498.3 693.7,498.4 694.3,498.6 695,498.7" stroke="#000000" stroke-width="5.8"/><polyline points="636.5,566.5 636.5,566.4 636.5,566.2 636.6,565.9 636.7,565.6 636.8,565.3 636.9,564.9 637,564.5 637.1,564 637.2,563.5 637.3,563 637.5,562.4 637.6,561.8 637.8,561.1 638,560.5 638.1,559.8 638.3,559.1 638.5,558.3 638.7,557.6 638.9,556.8 639.1,556 639.3,555.1 639.5,554.3 639.7,553.5 640,552.6 640.2,551.7 640.4,550.8 640.7,549.9 640.9,549 641.2,548.1 641.5,547.2 641.7,546.3 642,545.3 642.3,544.4 642.6,543.5 642.8,542.6 643.1,541.7 643.4,540.8 643.7,539.9 644.1,539 644.4,538.2 644.7,537.3 645,536.5 645.3,535.6 645.7,534.8 646,534.1 646.3,533.3 646.7,532.6 647,531.8 647.4,531.1 647.8,530.5 648.1,529.8 648.5,529.2 648.9,528.6 649.2,528 649.6,527.4 650,526.9 650.4,526.4 650.8,525.9 651.2,525.5 651.6,525 652,524.6 652.4,524.2 652.8,523.9 653.2,523.5 653.6,523.2 654.1,522.9 654.5,522.6 654.9,522.4 655.3,522.2 655.8,522 656.2,521.8 656.7,521.6 657.1,521.4 657.6,521.3 658,521.2 658.5,521.1 659,521 659.4,520.9 659.9,520.9 660.4,520.8 660.9,520.8 661.4,520.8 661.8,520.8 662.3,520.8 662.8,520.8 663.3,520.8 663.8,520.8 664.3,520.9 664.8,520.9 665.3,521 665.9,521.1 666.4,521.1 666.9,521.2 667.4,521.3 668,521.4 668.5,521.5 669,521.6 669.6,521.7 670.1,521.8 670.6,522 671.2,522.1 671.7,522.2 672.3,522.4 672.9,522.5 673.4,522.6 674,522.8 674.6,522.9 675.1,523.1 675.7,523.2 676.3,523.4 676.9,523.5 677.4,523.7 678,523.8 678.6,524 679.2,524.2 679.8,524.3 680.4,524.5 681,524.7 681.6,524.8 682.2,525 682.8,525.2 683.4,525.3 684.1,525.5 684.7,525.7 685.3,525.8 685.9,526 686.6,526.2 687.2,526.3 687.8,526.5 688.5,526.7 689.1,526.8 689.8,527 690.4,527.2 691.1,527.3 691.7,527.5 692.4,527.6 693,527.8 693.7,528 694.3,528.1 695,528.3" stroke="#ff8000" stroke-width="3.0" stroke-dasharray="39 39.6" stroke-dashoffset="0.5"/><polyline points="636.5,566.5 636.5,566.4 636.5,566.3 636.6,566.2 636.7,566.1 636.8,565.9 636.9,565.7 637,565.5 637.1,565.3 637.2,565.1 637.3,564.8 637.5,564.5 637.6,564.3 637.8,564 638,563.6 638.1,563.3 638.3,563 638.5,562.6 638.7,562.3 638.9,561.9 639.1,561.5 639.3,561.1 639.5,560.7 639.7,560.3 640,559.9 640.2,559.5 640.4,559.1 640.7,558.6 640.9,558.2 641.2,557.8 641.5,557.3 641.7,556.9 642,556.4 642.3,556 642.6,555.5 642.8,555.1 643.1,554.6 643.4,554.2 643.7,553.7 644.1,553.3 644.4,552.9 644.7,552.4 645,552 645.3,551.6 645.7,551.2 646,550.8 646.3,550.4 646.7,550 647,549.6 647.4,549.2 647.8,548.9 648.1,548.5 648.5,548.2 648.9,547.8 649.2,547.5 649.6,547.2 650,546.9 650.4,546.6 650.8,546.3 651.2,546.1 651.6,545.8 652,545.6 652.4,545.3 652.8,545.1 653.2,544.9 653.6,544.7 654.1,544.5 654.5,544.3 654.9,544.2 655.3,544 655.8,543.9 656.2,543.7 656.7,543.6 657.1,543.5 657.6,543.4 658,543.3 658.5,543.2 659,543.1 659.4,543 659.9,543 660.4,542.9 660.9,542.8 661.4,542.8 661.8,542.8 662.3,542.7 662.8,542.7 663.3,542.7 663.8,542.7 664.3,542.7 664.8,542.7 665.3,542.7 665.9,542.7 666.4,542.7 666.9,542.7 667.4,542.7 668,542.8 668.5,542.8 669,542.8 669.6,542.9 670.1,542.9 670.6,543 671.2,543 671.7,543.1 672.3,543.1 672.9,543.2 673.4,543.2 674,543.3 674.6,543.3 675.1,543.4 675.7,543.5 676.3,543.5 676.9,543.6 677.4,543.7 678,543.7 678.6,543.8 679.2,543.9 679.8,543.9 680.4,544 681,544.1 681.6,544.2 682.2,544.2 682.8,544.3 683.4,544.4 684.1,544.5 684.7,544.6 685.3,544.6 685.9,544.7 686.6,544.8 687.2,544.9 687.8,545 688.5,545 689.1,545.1 689.8,545.2 690.4,545.3 691.1,545.4 691.7,545.5 692.4,545.5 693,545.6 693.7,545.7 694.3,545.8 695,545.9" stroke="#1e8cff" stroke-width="3.0" stroke-dasharray="31.5 24.5 3.5 23" stroke-dashoffset="0"/><polyline points="636.5,566.5 636.5,566.4 636.5,566.3 636.6,566.2 636.7,566.1 636.8,565.9 636.9,565.7 637,565.5 637.1,565.2 637.2,565 637.3,564.7 637.5,564.4 637.6,564.1 637.8,563.8 638,563.5 638.1,563.1 638.3,562.8 638.5,562.4 638.7,562 638.9,561.6 639.1,561.2 639.3,560.8 639.5,560.4 639.7,559.9 640,559.4 640.2,559 640.4,558.5 640.7,558 640.9,557.5 641.2,557 641.5,556.5 641.7,556 642,555.4 642.3,554.9 642.6,554.4 642.8,553.8 643.1,553.2 643.4,552.7 643.7,552.1 644.1,551.5 644.4,550.9 644.7,550.3 645,549.7 645.3,549.1 645.7,548.5 646,547.9 646.3,547.3 646.7,546.7 647,546.1 647.4,545.5 647.8,544.8 648.1,544.2 648.5,543.6 648.9,543 649.2,542.4 649.6,541.7 650,541.1 650.4,540.5 650.8,539.9 651.2,539.3 651.6,538.6 652,538 652.4,537.4 652.8,536.8 653.2,536.2 653.6,535.6 654.1,535 654.5,534.5 654.9,533.9 655.3,533.3 655.8,532.7 656.2,532.2 656.7,531.6 657.1,531.1 657.6,530.5 658,530 658.5,529.5 659,528.9 659.4,528.4 659.9,527.9 660.4,527.4 660.9,527 661.4,526.5 661.8,526 662.3,525.6 662.8,525.1 663.3,524.7 663.8,524.2 664.3,523.8 664.8,523.4 665.3,523 665.9,522.6 666.4,522.2 666.9,521.9 667.4,521.5 668,521.2 668.5,520.8 669,520.5 669.6,520.2 670.1,519.9 670.6,519.6 671.2,519.3 671.7,519 672.3,518.7 672.9,518.5 673.4,518.2 674,518 674.6,517.7 675.1,517.5 675.7,517.3 676.3,517.1 676.9,516.9 677.4,516.7 678,516.5 678.6,516.3 679.2,516.2 679.8,516 680.4,515.9 681,515.7 681.6,515.6 682.2,515.5 682.8,515.4 683.4,515.2 684.1,515.1 684.7,515 685.3,515 685.9,514.9 686.6,514.8 687.2,514.7 687.8,514.7 688.5,514.6 689.1,514.6 689.8,514.5 690.4,514.5 691.1,514.4 691.7,514.4 692.4,514.4 693,514.4 693.7,514.4 694.3,514.4 695,514.4" stroke="#555555" stroke-width="3.4" stroke-dasharray="2.9 24.2" stroke-dashoffset="-0.5"/></g><g opacity="0.995"><text transform="translate(211.0 48.7) scale(1.12 1)" font-family="Liberation Serif" font-size="25" letter-spacing="0.6" stroke="#000" stroke-width="1.3" stroke-linejoin="round">gS0</text><text transform="translate(397.0 48.7) scale(1.12 1)" font-family="Liberation Serif" font-size="25" letter-spacing="0.6" stroke="#000" stroke-width="1.3" stroke-linejoin="round">gSa</text><text transform="translate(582.9 48.7) scale(1.12 1)" font-family="Liberation Serif" font-size="25" letter-spacing="0.6" stroke="#000" stroke-width="1.3" stroke-linejoin="round">gSb</text><text transform="translate(768.9 48.7) scale(1.12 1)" font-family="Liberation Serif" font-size="25" letter-spacing="0.6" stroke="#000" stroke-width="1.3" stroke-linejoin="round">gSd</text><text transform="translate(211.0 235.0) scale(1.12 1)" font-family="Liberation Serif" font-size="25" letter-spacing="0.6" stroke="#000" stroke-width="1.3" stroke-linejoin="round">iS0</text><text transform="translate(397.0 235.0) scale(1.12 1)" font-family="Liberation Serif" font-size="25" letter-spacing="0.6" stroke="#000" stroke-width="1.3" stroke-linejoin="round">iSa</text><text transform="translate(582.9 235.0) scale(1.12 1)" font-family="Liberation Serif" font-size="25" letter-spacing="0.6" stroke="#000" stroke-width="1.3" stroke-linejoin="round">iSb</text><text transform="translate(768.9 235.0) scale(1.12 1)" font-family="Liberation Serif" font-size="25" letter-spacing="0.6" stroke="#000" stroke-width="1.3" stroke-linejoin="round">iSd</text><text transform="translate(211.0 421.3) scale(1.12 1)" font-family="Liberation Serif" font-size="25" letter-spacing="0.6" stroke="#000" stroke-width="1.3" stroke-linejoin="round">dS0</text><text transform="translate(397.0 421.3) scale(1.12 1)" font-family="Liberation Serif" font-size="25" letter-spacing="0.6" stroke="#000" stroke-width="1.3" stroke-linejoin="round">dSa</text><text transform="translate(582.9 421.3) scale(1.12 1)" font-family="Liberation Serif" font-size="25" letter-spacing="0.6" stroke="#000" stroke-width="1.3" stroke-linejoin="round">dSb</text><text transform="translate(768.9 421.3) scale(1.12 1)" font-family="Liberation Serif" font-size="25" letter-spacing="0.6" stroke="#000" stroke-width="1.3" stroke-linejoin="round">dSd</text><text transform="translate(78.6 596.45) scale(1.04 1)" x="0.5" y="0" font-family="Liberation Sans" font-size="24.4" letter-spacing="1" text-anchor="middle" stroke="#000" stroke-width="0.9" stroke-linejoin="round">0</text><text transform="translate(122.6 596.45) scale(1.04 1)" x="0.5" y="0" font-family="Liberation Sans" font-size="24.4" letter-spacing="1" text-anchor="middle" stroke="#000" stroke-width="0.9" stroke-linejoin="round">5</text><text transform="translate(167.7 596.45) scale(1.04 1)" x="0.5" y="0" font-family="Liberation Sans" font-size="24.4" letter-spacing="1" text-anchor="middle" stroke="#000" stroke-width="0.9" stroke-linejoin="round">10</text><text transform="translate(212.2 596.45) scale(1.04 1)" x="0.5" y="0" font-family="Liberation Sans" font-size="24.4" letter-spacing="1" text-anchor="middle" stroke="#000" stroke-width="0.9" stroke-linejoin="round">15</text><text transform="translate(255.9 596.45) scale(1.04 1)" x="0.5" y="0" font-family="Liberation Sans" font-size="24.4" letter-spacing="1" text-anchor="middle" stroke="#000" stroke-width="0.9" stroke-linejoin="round">20</text><text transform="translate(61.35 566.8) rotate(-90) scale(1.07 1)" x="0.5" y="0" font-family="Liberation Sans" font-size="21.5" letter-spacing="1" text-anchor="middle" stroke="#000" stroke-width="0.9" stroke-linejoin="round">0</text><text transform="translate(61.35 500.4) rotate(-90) scale(1.07 1)" x="0.5" y="0" font-family="Liberation Sans" font-size="21.5" letter-spacing="1" text-anchor="middle" stroke="#000" stroke-width="0.9" stroke-linejoin="round">1</text><text transform="translate(61.35 434.0) rotate(-90) scale(1.07 1)" x="0.5" y="0" font-family="Liberation Sans" font-size="21.5" letter-spacing="1" text-anchor="middle" stroke="#000" stroke-width="0.9" stroke-linejoin="round">2</text><text transform="translate(171.5 646) scale(0.83 1)" x="0" y="0" font-family="Liberation Serif" font-weight="bold" font-size="29" text-anchor="middle">R</text><text transform="translate(25.9 493.9) rotate(-90) scale(0.8 1)" x="0" y="0" font-family="Liberation Serif" font-weight="bold" font-size="29">V</text><text transform="translate(35 477.2) rotate(-90)" x="0" y="0" font-family="Liberation Serif" font-weight="bold" font-size="23" letter-spacing="1.3">rot</text></g></svg>
</body></html>
